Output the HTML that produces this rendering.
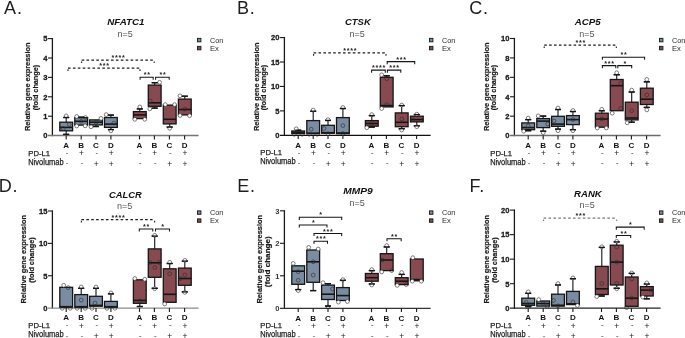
<!DOCTYPE html>
<html><head><meta charset="utf-8"><style>
html,body{margin:0;padding:0;background:#fff;width:685px;height:338px;overflow:hidden}
svg{display:block;will-change:transform}
</style></head><body>
<svg width="685" height="338" viewBox="0 0 685 338" font-family='"Liberation Sans", sans-serif'>
<rect width="685" height="338" fill="#fff"/>
<text x="4.10" y="13.50" font-size="18" font-weight="normal" font-style="normal" text-anchor="start" fill="#1e1e1e" letter-spacing="0.8">A.</text>
<text x="125.90" y="25.30" font-size="9.4" font-weight="bold" font-style="italic" text-anchor="middle" fill="#111" textLength="37.3" lengthAdjust="spacingAndGlyphs">NFATC1</text>
<text x="125.10" y="36.60" font-size="9" font-weight="normal" font-style="normal" text-anchor="middle" fill="#555" >n=5</text>
<rect x="197.50" y="38.40" width="3.4" height="3.4" fill="#798ca1" stroke="#222" stroke-width="1"/>
<rect x="197.50" y="46.40" width="3.4" height="3.4" fill="#874a50" stroke="#222" stroke-width="1"/>
<text x="209.90" y="42.90" font-size="7.6" font-weight="normal" font-style="normal" text-anchor="start" fill="#2a2a2a" textLength="13.4" lengthAdjust="spacingAndGlyphs">Con</text>
<text x="209.90" y="50.90" font-size="7.6" font-weight="normal" font-style="normal" text-anchor="start" fill="#2a2a2a" >Ex</text>
<text transform="translate(29.80,86.80) rotate(-90)" font-size="7.5" font-weight="bold" text-anchor="middle" fill="#1a1a1a" stroke="#1a1a1a" stroke-width="0.2" textLength="88.6" lengthAdjust="spacingAndGlyphs">Relative gene expression</text>
<text transform="translate(37.60,87.60) rotate(-90)" font-size="7.5" font-weight="bold" text-anchor="middle" fill="#1a1a1a" stroke="#1a1a1a" stroke-width="0.2" textLength="45.5" lengthAdjust="spacingAndGlyphs">(fold change)</text>
<line x1="52.40" y1="38.00" x2="52.40" y2="136.20" stroke="#1a1a1a" stroke-width="1.3" />
<text transform="translate(47.40,138.45) scale(0.95,1)" font-size="8" font-weight="bold" text-anchor="end" fill="#1a1a1a" stroke="#1a1a1a" stroke-width="0.3">0</text>
<line x1="48.00" y1="116.20" x2="52.40" y2="116.20" stroke="#1a1a1a" stroke-width="1.1" />
<text transform="translate(47.40,119.05) scale(0.95,1)" font-size="8" font-weight="bold" text-anchor="end" fill="#1a1a1a" stroke="#1a1a1a" stroke-width="0.3">1</text>
<line x1="48.00" y1="96.80" x2="52.40" y2="96.80" stroke="#1a1a1a" stroke-width="1.1" />
<text transform="translate(47.40,99.65) scale(0.95,1)" font-size="8" font-weight="bold" text-anchor="end" fill="#1a1a1a" stroke="#1a1a1a" stroke-width="0.3">2</text>
<line x1="48.00" y1="77.40" x2="52.40" y2="77.40" stroke="#1a1a1a" stroke-width="1.1" />
<text transform="translate(47.40,80.25) scale(0.95,1)" font-size="8" font-weight="bold" text-anchor="end" fill="#1a1a1a" stroke="#1a1a1a" stroke-width="0.3">3</text>
<line x1="48.00" y1="58.00" x2="52.40" y2="58.00" stroke="#1a1a1a" stroke-width="1.1" />
<text transform="translate(47.40,60.85) scale(0.95,1)" font-size="8" font-weight="bold" text-anchor="end" fill="#1a1a1a" stroke="#1a1a1a" stroke-width="0.3">4</text>
<line x1="48.00" y1="38.60" x2="52.40" y2="38.60" stroke="#1a1a1a" stroke-width="1.1" />
<text transform="translate(47.40,41.45) scale(0.95,1)" font-size="8" font-weight="bold" text-anchor="end" fill="#1a1a1a" stroke="#1a1a1a" stroke-width="0.3">5</text>
<line x1="48.00" y1="135.60" x2="198.60" y2="135.60" stroke="#767676" stroke-width="1.5" />
<line x1="66.20" y1="135.60" x2="66.20" y2="139.40" stroke="#1a1a1a" stroke-width="1.1" />
<line x1="66.20" y1="117.50" x2="66.20" y2="122.20" stroke="#151515" stroke-width="1.1" />
<line x1="63.20" y1="117.50" x2="69.20" y2="117.50" stroke="#151515" stroke-width="1.3" />
<line x1="66.20" y1="130.80" x2="66.20" y2="134.40" stroke="#151515" stroke-width="1.1" />
<line x1="63.20" y1="134.40" x2="69.20" y2="134.40" stroke="#151515" stroke-width="1.3" />
<rect x="59.80" y="122.20" width="12.80" height="8.60" fill="#798ca1" stroke="#151515" stroke-width="1.3"/>
<line x1="59.80" y1="127.40" x2="72.60" y2="127.40" stroke="#151515" stroke-width="1.6" />
<circle cx="66.20" cy="115.90" r="1.9" fill="#fff" stroke="#2a2a2a" stroke-width="0.7" stroke-opacity="0.85"/>
<circle cx="69.20" cy="124.50" r="1.9" fill="none" stroke="#2a2a2a" stroke-width="0.7" stroke-opacity="0.85"/>
<circle cx="63.20" cy="128.50" r="1.9" fill="none" stroke="#2a2a2a" stroke-width="0.7" stroke-opacity="0.85"/>
<line x1="63.20" y1="117.50" x2="69.20" y2="117.50" stroke="#151515" stroke-width="1.3" />
<line x1="63.20" y1="134.40" x2="69.20" y2="134.40" stroke="#151515" stroke-width="1.3" />
<line x1="81.20" y1="135.60" x2="81.20" y2="139.40" stroke="#1a1a1a" stroke-width="1.1" />
<line x1="81.20" y1="117.20" x2="81.20" y2="117.70" stroke="#151515" stroke-width="1.1" />
<line x1="78.20" y1="117.20" x2="84.20" y2="117.20" stroke="#151515" stroke-width="1.3" />
<rect x="74.80" y="117.70" width="12.80" height="7.40" fill="#798ca1" stroke="#151515" stroke-width="1.3"/>
<line x1="74.80" y1="121.30" x2="87.60" y2="121.30" stroke="#151515" stroke-width="1.6" />
<circle cx="76.70" cy="116.50" r="1.9" fill="#fff" stroke="#2a2a2a" stroke-width="0.7" stroke-opacity="0.85"/>
<circle cx="85.50" cy="117.50" r="1.9" fill="none" stroke="#2a2a2a" stroke-width="0.7" stroke-opacity="0.85"/>
<circle cx="76.70" cy="126.00" r="1.9" fill="#fff" stroke="#2a2a2a" stroke-width="0.7" stroke-opacity="0.85"/>
<circle cx="85.20" cy="125.80" r="1.9" fill="#fff" stroke="#2a2a2a" stroke-width="0.7" stroke-opacity="0.85"/>
<circle cx="81.20" cy="121.30" r="1.9" fill="none" stroke="#2a2a2a" stroke-width="0.7" stroke-opacity="0.85"/>
<line x1="78.20" y1="117.20" x2="84.20" y2="117.20" stroke="#151515" stroke-width="1.3" />
<line x1="96.00" y1="135.60" x2="96.00" y2="139.40" stroke="#1a1a1a" stroke-width="1.1" />
<line x1="96.00" y1="124.90" x2="96.00" y2="126.50" stroke="#151515" stroke-width="1.1" />
<line x1="93.00" y1="126.50" x2="99.00" y2="126.50" stroke="#151515" stroke-width="1.3" />
<rect x="89.60" y="119.90" width="12.80" height="5.00" fill="#798ca1" stroke="#151515" stroke-width="1.3"/>
<line x1="89.60" y1="122.20" x2="102.40" y2="122.20" stroke="#151515" stroke-width="1.6" />
<circle cx="101.00" cy="118.40" r="1.9" fill="#fff" stroke="#2a2a2a" stroke-width="0.7" stroke-opacity="0.85"/>
<circle cx="91.00" cy="126.80" r="1.9" fill="#fff" stroke="#2a2a2a" stroke-width="0.7" stroke-opacity="0.85"/>
<circle cx="96.00" cy="122.20" r="1.9" fill="none" stroke="#2a2a2a" stroke-width="0.7" stroke-opacity="0.85"/>
<line x1="93.00" y1="126.50" x2="99.00" y2="126.50" stroke="#151515" stroke-width="1.3" />
<line x1="110.90" y1="135.60" x2="110.90" y2="139.40" stroke="#1a1a1a" stroke-width="1.1" />
<line x1="110.90" y1="115.10" x2="110.90" y2="117.50" stroke="#151515" stroke-width="1.1" />
<line x1="107.90" y1="115.10" x2="113.90" y2="115.10" stroke="#151515" stroke-width="1.3" />
<line x1="110.90" y1="127.40" x2="110.90" y2="129.60" stroke="#151515" stroke-width="1.1" />
<line x1="107.90" y1="129.60" x2="113.90" y2="129.60" stroke="#151515" stroke-width="1.3" />
<rect x="104.50" y="117.50" width="12.80" height="9.90" fill="#798ca1" stroke="#151515" stroke-width="1.3"/>
<line x1="104.50" y1="124.10" x2="117.30" y2="124.10" stroke="#151515" stroke-width="1.6" />
<circle cx="106.20" cy="114.60" r="1.9" fill="#fff" stroke="#2a2a2a" stroke-width="0.7" stroke-opacity="0.85"/>
<circle cx="110.90" cy="130.80" r="1.9" fill="#fff" stroke="#2a2a2a" stroke-width="0.7" stroke-opacity="0.85"/>
<circle cx="113.90" cy="123.00" r="1.9" fill="none" stroke="#2a2a2a" stroke-width="0.7" stroke-opacity="0.85"/>
<line x1="107.90" y1="115.10" x2="113.90" y2="115.10" stroke="#151515" stroke-width="1.3" />
<line x1="107.90" y1="129.60" x2="113.90" y2="129.60" stroke="#151515" stroke-width="1.3" />
<line x1="139.50" y1="135.60" x2="139.50" y2="139.40" stroke="#1a1a1a" stroke-width="1.1" />
<line x1="139.80" y1="108.90" x2="139.80" y2="111.60" stroke="#151515" stroke-width="1.1" />
<line x1="136.80" y1="108.90" x2="142.80" y2="108.90" stroke="#151515" stroke-width="1.3" />
<rect x="133.40" y="111.60" width="12.80" height="7.00" fill="#874a50" stroke="#151515" stroke-width="1.3"/>
<line x1="133.40" y1="114.90" x2="146.20" y2="114.90" stroke="#151515" stroke-width="1.6" />
<circle cx="139.80" cy="106.90" r="1.9" fill="#fff" stroke="#2a2a2a" stroke-width="0.7" stroke-opacity="0.85"/>
<circle cx="134.80" cy="119.30" r="1.9" fill="#fff" stroke="#2a2a2a" stroke-width="0.7" stroke-opacity="0.85"/>
<circle cx="144.80" cy="119.30" r="1.9" fill="#fff" stroke="#2a2a2a" stroke-width="0.7" stroke-opacity="0.85"/>
<line x1="136.80" y1="108.90" x2="142.80" y2="108.90" stroke="#151515" stroke-width="1.3" />
<line x1="154.40" y1="135.60" x2="154.40" y2="139.40" stroke="#1a1a1a" stroke-width="1.1" />
<line x1="154.70" y1="82.70" x2="154.70" y2="85.10" stroke="#151515" stroke-width="1.1" />
<line x1="151.70" y1="82.70" x2="157.70" y2="82.70" stroke="#151515" stroke-width="1.3" />
<line x1="154.70" y1="106.30" x2="154.70" y2="108.10" stroke="#151515" stroke-width="1.1" />
<line x1="151.70" y1="108.10" x2="157.70" y2="108.10" stroke="#151515" stroke-width="1.3" />
<rect x="148.30" y="85.10" width="12.80" height="21.20" fill="#874a50" stroke="#151515" stroke-width="1.3"/>
<line x1="148.30" y1="102.80" x2="161.10" y2="102.80" stroke="#151515" stroke-width="1.6" />
<circle cx="159.60" cy="82.30" r="1.9" fill="#fff" stroke="#2a2a2a" stroke-width="0.7" stroke-opacity="0.85"/>
<circle cx="149.80" cy="108.90" r="1.9" fill="#fff" stroke="#2a2a2a" stroke-width="0.7" stroke-opacity="0.85"/>
<circle cx="150.20" cy="101.00" r="1.9" fill="none" stroke="#2a2a2a" stroke-width="0.7" stroke-opacity="0.85"/>
<line x1="151.70" y1="82.70" x2="157.70" y2="82.70" stroke="#151515" stroke-width="1.3" />
<line x1="151.70" y1="108.10" x2="157.70" y2="108.10" stroke="#151515" stroke-width="1.3" />
<line x1="169.40" y1="135.60" x2="169.40" y2="139.40" stroke="#1a1a1a" stroke-width="1.1" />
<line x1="169.70" y1="123.90" x2="169.70" y2="127.10" stroke="#151515" stroke-width="1.1" />
<line x1="166.70" y1="127.10" x2="172.70" y2="127.10" stroke="#151515" stroke-width="1.3" />
<rect x="163.30" y="105.10" width="12.80" height="18.80" fill="#874a50" stroke="#151515" stroke-width="1.3"/>
<line x1="163.30" y1="119.30" x2="176.10" y2="119.30" stroke="#151515" stroke-width="1.6" />
<circle cx="165.30" cy="104.60" r="1.9" fill="#fff" stroke="#2a2a2a" stroke-width="0.7" stroke-opacity="0.85"/>
<circle cx="174.60" cy="104.60" r="1.9" fill="#fff" stroke="#2a2a2a" stroke-width="0.7" stroke-opacity="0.85"/>
<circle cx="169.70" cy="128.30" r="1.9" fill="#fff" stroke="#2a2a2a" stroke-width="0.7" stroke-opacity="0.85"/>
<line x1="166.70" y1="127.10" x2="172.70" y2="127.10" stroke="#151515" stroke-width="1.3" />
<line x1="184.60" y1="135.60" x2="184.60" y2="139.40" stroke="#1a1a1a" stroke-width="1.1" />
<line x1="184.80" y1="96.20" x2="184.80" y2="99.10" stroke="#151515" stroke-width="1.1" />
<line x1="181.80" y1="96.20" x2="187.80" y2="96.20" stroke="#151515" stroke-width="1.3" />
<rect x="178.40" y="99.10" width="12.80" height="15.80" fill="#874a50" stroke="#151515" stroke-width="1.3"/>
<line x1="178.40" y1="109.50" x2="191.20" y2="109.50" stroke="#151515" stroke-width="1.6" />
<circle cx="180.00" cy="95.80" r="1.9" fill="#fff" stroke="#2a2a2a" stroke-width="0.7" stroke-opacity="0.85"/>
<circle cx="180.00" cy="115.50" r="1.9" fill="#fff" stroke="#2a2a2a" stroke-width="0.7" stroke-opacity="0.85"/>
<circle cx="189.60" cy="115.70" r="1.9" fill="#fff" stroke="#2a2a2a" stroke-width="0.7" stroke-opacity="0.85"/>
<circle cx="184.80" cy="109.20" r="1.9" fill="none" stroke="#2a2a2a" stroke-width="0.7" stroke-opacity="0.85"/>
<line x1="181.80" y1="96.20" x2="187.80" y2="96.20" stroke="#151515" stroke-width="1.3" />
<text x="66.20" y="147.80" font-size="8.0" font-weight="bold" font-style="normal" text-anchor="middle" fill="#111" >A</text>
<text x="67.00" y="154.80" font-size="7.6" font-weight="normal" font-style="normal" text-anchor="middle" fill="#1a1a1a" >-</text>
<text x="67.00" y="165.10" font-size="7.6" font-weight="normal" font-style="normal" text-anchor="middle" fill="#1a1a1a" >-</text>
<text x="81.20" y="147.80" font-size="8.0" font-weight="bold" font-style="normal" text-anchor="middle" fill="#111" >B</text>
<text x="81.50" y="156.20" font-size="8.4" font-weight="normal" font-style="normal" text-anchor="middle" fill="#1a1a1a" >+</text>
<text x="82.00" y="165.10" font-size="7.6" font-weight="normal" font-style="normal" text-anchor="middle" fill="#1a1a1a" >-</text>
<text x="96.00" y="147.80" font-size="8.0" font-weight="bold" font-style="normal" text-anchor="middle" fill="#111" >C</text>
<text x="96.80" y="154.80" font-size="7.6" font-weight="normal" font-style="normal" text-anchor="middle" fill="#1a1a1a" >-</text>
<text x="96.30" y="166.50" font-size="8.4" font-weight="normal" font-style="normal" text-anchor="middle" fill="#1a1a1a" >+</text>
<text x="110.90" y="147.80" font-size="8.0" font-weight="bold" font-style="normal" text-anchor="middle" fill="#111" >D</text>
<text x="111.20" y="156.20" font-size="8.4" font-weight="normal" font-style="normal" text-anchor="middle" fill="#1a1a1a" >+</text>
<text x="111.20" y="166.50" font-size="8.4" font-weight="normal" font-style="normal" text-anchor="middle" fill="#1a1a1a" >+</text>
<text x="139.50" y="147.80" font-size="8.0" font-weight="bold" font-style="normal" text-anchor="middle" fill="#111" >A</text>
<text x="140.30" y="154.80" font-size="7.6" font-weight="normal" font-style="normal" text-anchor="middle" fill="#1a1a1a" >-</text>
<text x="140.30" y="165.10" font-size="7.6" font-weight="normal" font-style="normal" text-anchor="middle" fill="#1a1a1a" >-</text>
<text x="154.40" y="147.80" font-size="8.0" font-weight="bold" font-style="normal" text-anchor="middle" fill="#111" >B</text>
<text x="154.70" y="156.20" font-size="8.4" font-weight="normal" font-style="normal" text-anchor="middle" fill="#1a1a1a" >+</text>
<text x="155.20" y="165.10" font-size="7.6" font-weight="normal" font-style="normal" text-anchor="middle" fill="#1a1a1a" >-</text>
<text x="169.40" y="147.80" font-size="8.0" font-weight="bold" font-style="normal" text-anchor="middle" fill="#111" >C</text>
<text x="170.20" y="154.80" font-size="7.6" font-weight="normal" font-style="normal" text-anchor="middle" fill="#1a1a1a" >-</text>
<text x="169.70" y="166.50" font-size="8.4" font-weight="normal" font-style="normal" text-anchor="middle" fill="#1a1a1a" >+</text>
<text x="184.60" y="147.80" font-size="8.0" font-weight="bold" font-style="normal" text-anchor="middle" fill="#111" >D</text>
<text x="184.90" y="156.20" font-size="8.4" font-weight="normal" font-style="normal" text-anchor="middle" fill="#1a1a1a" >+</text>
<text x="184.90" y="166.50" font-size="8.4" font-weight="normal" font-style="normal" text-anchor="middle" fill="#1a1a1a" >+</text>
<text x="28.30" y="155.50" font-size="7.9" font-weight="normal" font-style="normal" text-anchor="start" fill="#222" textLength="21.8" lengthAdjust="spacingAndGlyphs" stroke="#222" stroke-width="0.25">PD-L1</text>
<text x="28.30" y="164.70" font-size="8.3" font-weight="normal" font-style="normal" text-anchor="start" fill="#222" textLength="35.4" lengthAdjust="spacingAndGlyphs" stroke="#222" stroke-width="0.25">Nivolumab</text>
<path d="M81.60,60.20 H154.20" fill="none" stroke="#1c1c1c" stroke-width="1.25" stroke-dasharray="2.6,2.3"/>
<line x1="81.60" y1="61.50" x2="81.60" y2="63.10" stroke="#1c1c1c" stroke-width="1.1" />
<line x1="154.20" y1="61.50" x2="154.20" y2="63.10" stroke="#1c1c1c" stroke-width="1.1" />
<text x="118.40" y="60.30" font-size="7.2" font-weight="bold" font-style="normal" text-anchor="middle" fill="#222" letter-spacing="0.7">****</text>
<path d="M68.00,68.00 H140.00" fill="none" stroke="#1c1c1c" stroke-width="1.25" stroke-dasharray="2.6,2.3"/>
<line x1="68.00" y1="69.30" x2="68.00" y2="70.90" stroke="#1c1c1c" stroke-width="1.1" />
<line x1="140.00" y1="69.30" x2="140.00" y2="70.90" stroke="#1c1c1c" stroke-width="1.1" />
<text x="104.50" y="68.10" font-size="7.2" font-weight="bold" font-style="normal" text-anchor="middle" fill="#222" letter-spacing="0.7">***</text>
<path d="M140.10,79.80 V77.20 H153.20 V79.80" fill="none" stroke="#151515" stroke-width="1.05"/>
<text x="147.15" y="77.30" font-size="7.2" font-weight="bold" font-style="normal" text-anchor="middle" fill="#222" letter-spacing="0.7">**</text>
<path d="M155.60,79.80 V77.20 H169.20 V79.80" fill="none" stroke="#151515" stroke-width="1.05"/>
<text x="162.90" y="77.30" font-size="7.2" font-weight="bold" font-style="normal" text-anchor="middle" fill="#222" letter-spacing="0.7">**</text>
<text x="237.00" y="13.70" font-size="18" font-weight="normal" font-style="normal" text-anchor="start" fill="#1e1e1e" letter-spacing="0.8">B.</text>
<text x="357.90" y="25.00" font-size="9.4" font-weight="bold" font-style="italic" text-anchor="middle" fill="#111" textLength="25.9" lengthAdjust="spacingAndGlyphs">CTSK</text>
<text x="357.10" y="36.60" font-size="9" font-weight="normal" font-style="normal" text-anchor="middle" fill="#555" >n=5</text>
<rect x="429.50" y="38.40" width="3.4" height="3.4" fill="#798ca1" stroke="#222" stroke-width="1"/>
<rect x="429.50" y="46.40" width="3.4" height="3.4" fill="#874a50" stroke="#222" stroke-width="1"/>
<text x="441.90" y="42.90" font-size="7.6" font-weight="normal" font-style="normal" text-anchor="start" fill="#2a2a2a" textLength="13.4" lengthAdjust="spacingAndGlyphs">Con</text>
<text x="441.90" y="50.90" font-size="7.6" font-weight="normal" font-style="normal" text-anchor="start" fill="#2a2a2a" >Ex</text>
<text transform="translate(258.60,86.80) rotate(-90)" font-size="7.5" font-weight="bold" text-anchor="middle" fill="#1a1a1a" stroke="#1a1a1a" stroke-width="0.2" textLength="88.6" lengthAdjust="spacingAndGlyphs">Relative gene expression</text>
<text transform="translate(266.40,87.60) rotate(-90)" font-size="7.5" font-weight="bold" text-anchor="middle" fill="#1a1a1a" stroke="#1a1a1a" stroke-width="0.2" textLength="45.5" lengthAdjust="spacingAndGlyphs">(fold change)</text>
<line x1="284.40" y1="37.00" x2="284.40" y2="135.90" stroke="#1a1a1a" stroke-width="1.3" />
<text transform="translate(279.40,138.15) scale(0.95,1)" font-size="8" font-weight="bold" text-anchor="end" fill="#1a1a1a" stroke="#1a1a1a" stroke-width="0.3">0</text>
<line x1="280.00" y1="110.88" x2="284.40" y2="110.88" stroke="#1a1a1a" stroke-width="1.1" />
<text transform="translate(279.40,113.72) scale(0.95,1)" font-size="8" font-weight="bold" text-anchor="end" fill="#1a1a1a" stroke="#1a1a1a" stroke-width="0.3">5</text>
<line x1="280.00" y1="86.45" x2="284.40" y2="86.45" stroke="#1a1a1a" stroke-width="1.1" />
<text transform="translate(279.40,89.30) scale(0.95,1)" font-size="8" font-weight="bold" text-anchor="end" fill="#1a1a1a" stroke="#1a1a1a" stroke-width="0.3">10</text>
<line x1="280.00" y1="62.03" x2="284.40" y2="62.03" stroke="#1a1a1a" stroke-width="1.1" />
<text transform="translate(279.40,64.88) scale(0.95,1)" font-size="8" font-weight="bold" text-anchor="end" fill="#1a1a1a" stroke="#1a1a1a" stroke-width="0.3">15</text>
<line x1="280.00" y1="37.60" x2="284.40" y2="37.60" stroke="#1a1a1a" stroke-width="1.1" />
<text transform="translate(279.40,40.45) scale(0.95,1)" font-size="8" font-weight="bold" text-anchor="end" fill="#1a1a1a" stroke="#1a1a1a" stroke-width="0.3">20</text>
<line x1="280.00" y1="135.30" x2="430.60" y2="135.30" stroke="#111" stroke-width="1.3" />
<line x1="298.20" y1="135.30" x2="298.20" y2="139.10" stroke="#1a1a1a" stroke-width="1.1" />
<line x1="298.20" y1="130.20" x2="298.20" y2="131.00" stroke="#151515" stroke-width="1.1" />
<line x1="295.20" y1="130.20" x2="301.20" y2="130.20" stroke="#151515" stroke-width="1.3" />
<rect x="291.80" y="131.00" width="12.80" height="2.60" fill="#798ca1" stroke="#151515" stroke-width="1.3"/>
<line x1="291.80" y1="132.30" x2="304.60" y2="132.30" stroke="#151515" stroke-width="1.6" />
<circle cx="296.20" cy="128.80" r="1.9" fill="#fff" stroke="#2a2a2a" stroke-width="0.7" stroke-opacity="0.85"/>
<circle cx="294.20" cy="134.30" r="1.9" fill="none" stroke="#2a2a2a" stroke-width="0.7" stroke-opacity="0.85"/>
<circle cx="302.20" cy="134.30" r="1.9" fill="none" stroke="#2a2a2a" stroke-width="0.7" stroke-opacity="0.85"/>
<line x1="295.20" y1="130.20" x2="301.20" y2="130.20" stroke="#151515" stroke-width="1.3" />
<line x1="313.20" y1="135.30" x2="313.20" y2="139.10" stroke="#1a1a1a" stroke-width="1.1" />
<line x1="313.20" y1="111.20" x2="313.20" y2="120.60" stroke="#151515" stroke-width="1.1" />
<line x1="310.20" y1="111.20" x2="316.20" y2="111.20" stroke="#151515" stroke-width="1.3" />
<rect x="306.80" y="120.60" width="12.80" height="13.10" fill="#798ca1" stroke="#151515" stroke-width="1.3"/>
<line x1="306.80" y1="133.20" x2="319.60" y2="133.20" stroke="#151515" stroke-width="1.6" />
<circle cx="313.20" cy="110.10" r="1.9" fill="#fff" stroke="#2a2a2a" stroke-width="0.7" stroke-opacity="0.85"/>
<circle cx="311.20" cy="129.20" r="1.9" fill="none" stroke="#2a2a2a" stroke-width="0.7" stroke-opacity="0.85"/>
<circle cx="309.20" cy="134.30" r="1.9" fill="none" stroke="#2a2a2a" stroke-width="0.7" stroke-opacity="0.85"/>
<circle cx="317.20" cy="134.30" r="1.9" fill="none" stroke="#2a2a2a" stroke-width="0.7" stroke-opacity="0.85"/>
<line x1="310.20" y1="111.20" x2="316.20" y2="111.20" stroke="#151515" stroke-width="1.3" />
<line x1="328.00" y1="135.30" x2="328.00" y2="139.10" stroke="#1a1a1a" stroke-width="1.1" />
<line x1="328.00" y1="120.40" x2="328.00" y2="125.30" stroke="#151515" stroke-width="1.1" />
<line x1="325.00" y1="120.40" x2="331.00" y2="120.40" stroke="#151515" stroke-width="1.3" />
<rect x="321.60" y="125.30" width="12.80" height="7.90" fill="#798ca1" stroke="#151515" stroke-width="1.3"/>
<line x1="321.60" y1="132.70" x2="334.40" y2="132.70" stroke="#151515" stroke-width="1.6" />
<circle cx="328.00" cy="119.60" r="1.9" fill="#fff" stroke="#2a2a2a" stroke-width="0.7" stroke-opacity="0.85"/>
<circle cx="324.00" cy="128.50" r="1.9" fill="none" stroke="#2a2a2a" stroke-width="0.7" stroke-opacity="0.85"/>
<circle cx="328.00" cy="133.80" r="1.9" fill="none" stroke="#2a2a2a" stroke-width="0.7" stroke-opacity="0.85"/>
<line x1="325.00" y1="120.40" x2="331.00" y2="120.40" stroke="#151515" stroke-width="1.3" />
<line x1="342.90" y1="135.30" x2="342.90" y2="139.10" stroke="#1a1a1a" stroke-width="1.1" />
<line x1="342.90" y1="108.50" x2="342.90" y2="117.60" stroke="#151515" stroke-width="1.1" />
<line x1="339.90" y1="108.50" x2="345.90" y2="108.50" stroke="#151515" stroke-width="1.3" />
<rect x="336.50" y="117.60" width="12.80" height="16.10" fill="#798ca1" stroke="#151515" stroke-width="1.3"/>
<line x1="336.50" y1="133.00" x2="349.30" y2="133.00" stroke="#151515" stroke-width="1.6" />
<circle cx="342.90" cy="107.50" r="1.9" fill="#fff" stroke="#2a2a2a" stroke-width="0.7" stroke-opacity="0.85"/>
<circle cx="342.90" cy="125.60" r="1.9" fill="none" stroke="#2a2a2a" stroke-width="0.7" stroke-opacity="0.85"/>
<circle cx="342.90" cy="133.50" r="1.9" fill="none" stroke="#2a2a2a" stroke-width="0.7" stroke-opacity="0.85"/>
<line x1="339.90" y1="108.50" x2="345.90" y2="108.50" stroke="#151515" stroke-width="1.3" />
<line x1="371.50" y1="135.30" x2="371.50" y2="139.10" stroke="#1a1a1a" stroke-width="1.1" />
<line x1="371.80" y1="115.60" x2="371.80" y2="120.60" stroke="#151515" stroke-width="1.1" />
<line x1="368.80" y1="115.60" x2="374.80" y2="115.60" stroke="#151515" stroke-width="1.3" />
<line x1="371.80" y1="126.20" x2="371.80" y2="127.10" stroke="#151515" stroke-width="1.1" />
<line x1="368.80" y1="127.10" x2="374.80" y2="127.10" stroke="#151515" stroke-width="1.3" />
<rect x="365.40" y="120.60" width="12.80" height="5.60" fill="#874a50" stroke="#151515" stroke-width="1.3"/>
<line x1="365.40" y1="123.50" x2="378.20" y2="123.50" stroke="#151515" stroke-width="1.6" />
<circle cx="371.80" cy="114.60" r="1.9" fill="#fff" stroke="#2a2a2a" stroke-width="0.7" stroke-opacity="0.85"/>
<circle cx="366.80" cy="127.70" r="1.9" fill="#fff" stroke="#2a2a2a" stroke-width="0.7" stroke-opacity="0.85"/>
<circle cx="371.80" cy="123.50" r="1.9" fill="none" stroke="#2a2a2a" stroke-width="0.7" stroke-opacity="0.85"/>
<line x1="368.80" y1="115.60" x2="374.80" y2="115.60" stroke="#151515" stroke-width="1.3" />
<line x1="368.80" y1="127.10" x2="374.80" y2="127.10" stroke="#151515" stroke-width="1.3" />
<line x1="386.40" y1="135.30" x2="386.40" y2="139.10" stroke="#1a1a1a" stroke-width="1.1" />
<line x1="386.70" y1="75.80" x2="386.70" y2="77.30" stroke="#151515" stroke-width="1.1" />
<line x1="383.70" y1="75.80" x2="389.70" y2="75.80" stroke="#151515" stroke-width="1.3" />
<rect x="380.30" y="77.30" width="12.80" height="29.60" fill="#874a50" stroke="#151515" stroke-width="1.3"/>
<line x1="380.30" y1="105.60" x2="393.10" y2="105.60" stroke="#151515" stroke-width="1.6" />
<circle cx="381.70" cy="74.80" r="1.9" fill="#fff" stroke="#2a2a2a" stroke-width="0.7" stroke-opacity="0.85"/>
<circle cx="386.70" cy="78.70" r="1.9" fill="none" stroke="#2a2a2a" stroke-width="0.7" stroke-opacity="0.85"/>
<circle cx="381.70" cy="108.50" r="1.9" fill="#fff" stroke="#2a2a2a" stroke-width="0.7" stroke-opacity="0.85"/>
<circle cx="386.70" cy="104.60" r="1.9" fill="none" stroke="#2a2a2a" stroke-width="0.7" stroke-opacity="0.85"/>
<line x1="383.70" y1="75.80" x2="389.70" y2="75.80" stroke="#151515" stroke-width="1.3" />
<line x1="401.40" y1="135.30" x2="401.40" y2="139.10" stroke="#1a1a1a" stroke-width="1.1" />
<line x1="401.70" y1="105.60" x2="401.70" y2="112.90" stroke="#151515" stroke-width="1.1" />
<line x1="398.70" y1="105.60" x2="404.70" y2="105.60" stroke="#151515" stroke-width="1.3" />
<line x1="401.70" y1="126.70" x2="401.70" y2="128.70" stroke="#151515" stroke-width="1.1" />
<line x1="398.70" y1="128.70" x2="404.70" y2="128.70" stroke="#151515" stroke-width="1.3" />
<rect x="395.30" y="112.90" width="12.80" height="13.80" fill="#874a50" stroke="#151515" stroke-width="1.3"/>
<line x1="395.30" y1="122.30" x2="408.10" y2="122.30" stroke="#151515" stroke-width="1.6" />
<circle cx="401.70" cy="105.00" r="1.9" fill="#fff" stroke="#2a2a2a" stroke-width="0.7" stroke-opacity="0.85"/>
<circle cx="401.70" cy="130.00" r="1.9" fill="#fff" stroke="#2a2a2a" stroke-width="0.7" stroke-opacity="0.85"/>
<circle cx="401.70" cy="119.00" r="1.9" fill="none" stroke="#2a2a2a" stroke-width="0.7" stroke-opacity="0.85"/>
<line x1="398.70" y1="105.60" x2="404.70" y2="105.60" stroke="#151515" stroke-width="1.3" />
<line x1="398.70" y1="128.70" x2="404.70" y2="128.70" stroke="#151515" stroke-width="1.3" />
<line x1="416.60" y1="135.30" x2="416.60" y2="139.10" stroke="#1a1a1a" stroke-width="1.1" />
<line x1="416.80" y1="114.60" x2="416.80" y2="116.20" stroke="#151515" stroke-width="1.1" />
<line x1="413.80" y1="114.60" x2="419.80" y2="114.60" stroke="#151515" stroke-width="1.3" />
<line x1="416.80" y1="121.90" x2="416.80" y2="125.80" stroke="#151515" stroke-width="1.1" />
<line x1="413.80" y1="125.80" x2="419.80" y2="125.80" stroke="#151515" stroke-width="1.3" />
<rect x="410.40" y="116.20" width="12.80" height="5.70" fill="#874a50" stroke="#151515" stroke-width="1.3"/>
<line x1="410.40" y1="119.60" x2="423.20" y2="119.60" stroke="#151515" stroke-width="1.6" />
<circle cx="416.80" cy="114.20" r="1.9" fill="#fff" stroke="#2a2a2a" stroke-width="0.7" stroke-opacity="0.85"/>
<circle cx="416.80" cy="126.70" r="1.9" fill="#fff" stroke="#2a2a2a" stroke-width="0.7" stroke-opacity="0.85"/>
<circle cx="412.80" cy="119.60" r="1.9" fill="none" stroke="#2a2a2a" stroke-width="0.7" stroke-opacity="0.85"/>
<line x1="413.80" y1="114.60" x2="419.80" y2="114.60" stroke="#151515" stroke-width="1.3" />
<line x1="413.80" y1="125.80" x2="419.80" y2="125.80" stroke="#151515" stroke-width="1.3" />
<text x="298.20" y="147.50" font-size="8.0" font-weight="bold" font-style="normal" text-anchor="middle" fill="#111" >A</text>
<text x="299.00" y="154.80" font-size="7.6" font-weight="normal" font-style="normal" text-anchor="middle" fill="#1a1a1a" >-</text>
<text x="299.00" y="165.10" font-size="7.6" font-weight="normal" font-style="normal" text-anchor="middle" fill="#1a1a1a" >-</text>
<text x="313.20" y="147.50" font-size="8.0" font-weight="bold" font-style="normal" text-anchor="middle" fill="#111" >B</text>
<text x="313.50" y="156.20" font-size="8.4" font-weight="normal" font-style="normal" text-anchor="middle" fill="#1a1a1a" >+</text>
<text x="314.00" y="165.10" font-size="7.6" font-weight="normal" font-style="normal" text-anchor="middle" fill="#1a1a1a" >-</text>
<text x="328.00" y="147.50" font-size="8.0" font-weight="bold" font-style="normal" text-anchor="middle" fill="#111" >C</text>
<text x="328.80" y="154.80" font-size="7.6" font-weight="normal" font-style="normal" text-anchor="middle" fill="#1a1a1a" >-</text>
<text x="328.30" y="166.50" font-size="8.4" font-weight="normal" font-style="normal" text-anchor="middle" fill="#1a1a1a" >+</text>
<text x="342.90" y="147.50" font-size="8.0" font-weight="bold" font-style="normal" text-anchor="middle" fill="#111" >D</text>
<text x="343.20" y="156.20" font-size="8.4" font-weight="normal" font-style="normal" text-anchor="middle" fill="#1a1a1a" >+</text>
<text x="343.20" y="166.50" font-size="8.4" font-weight="normal" font-style="normal" text-anchor="middle" fill="#1a1a1a" >+</text>
<text x="371.50" y="147.50" font-size="8.0" font-weight="bold" font-style="normal" text-anchor="middle" fill="#111" >A</text>
<text x="372.30" y="154.80" font-size="7.6" font-weight="normal" font-style="normal" text-anchor="middle" fill="#1a1a1a" >-</text>
<text x="372.30" y="165.10" font-size="7.6" font-weight="normal" font-style="normal" text-anchor="middle" fill="#1a1a1a" >-</text>
<text x="386.40" y="147.50" font-size="8.0" font-weight="bold" font-style="normal" text-anchor="middle" fill="#111" >B</text>
<text x="386.70" y="156.20" font-size="8.4" font-weight="normal" font-style="normal" text-anchor="middle" fill="#1a1a1a" >+</text>
<text x="387.20" y="165.10" font-size="7.6" font-weight="normal" font-style="normal" text-anchor="middle" fill="#1a1a1a" >-</text>
<text x="401.40" y="147.50" font-size="8.0" font-weight="bold" font-style="normal" text-anchor="middle" fill="#111" >C</text>
<text x="402.20" y="154.80" font-size="7.6" font-weight="normal" font-style="normal" text-anchor="middle" fill="#1a1a1a" >-</text>
<text x="401.70" y="166.50" font-size="8.4" font-weight="normal" font-style="normal" text-anchor="middle" fill="#1a1a1a" >+</text>
<text x="416.60" y="147.50" font-size="8.0" font-weight="bold" font-style="normal" text-anchor="middle" fill="#111" >D</text>
<text x="416.90" y="156.20" font-size="8.4" font-weight="normal" font-style="normal" text-anchor="middle" fill="#1a1a1a" >+</text>
<text x="416.90" y="166.50" font-size="8.4" font-weight="normal" font-style="normal" text-anchor="middle" fill="#1a1a1a" >+</text>
<text x="260.30" y="155.20" font-size="7.9" font-weight="normal" font-style="normal" text-anchor="start" fill="#222" textLength="21.8" lengthAdjust="spacingAndGlyphs" stroke="#222" stroke-width="0.25">PD-L1</text>
<text x="260.30" y="164.40" font-size="8.3" font-weight="normal" font-style="normal" text-anchor="start" fill="#222" textLength="35.4" lengthAdjust="spacingAndGlyphs" stroke="#222" stroke-width="0.25">Nivolumab</text>
<path d="M313.60,52.80 H386.00" fill="none" stroke="#1c1c1c" stroke-width="1.25" stroke-dasharray="2.6,2.3"/>
<line x1="313.60" y1="54.10" x2="313.60" y2="55.70" stroke="#1c1c1c" stroke-width="1.1" />
<line x1="386.00" y1="54.10" x2="386.00" y2="55.70" stroke="#1c1c1c" stroke-width="1.1" />
<text x="350.30" y="52.90" font-size="7.2" font-weight="bold" font-style="normal" text-anchor="middle" fill="#222" letter-spacing="0.7">****</text>
<path d="M371.60,72.70 V70.10 H385.30 V72.70" fill="none" stroke="#151515" stroke-width="1.05"/>
<text x="378.95" y="70.20" font-size="7.2" font-weight="bold" font-style="normal" text-anchor="middle" fill="#222" letter-spacing="0.7">****</text>
<path d="M387.40,72.70 V70.10 H400.80 V72.70" fill="none" stroke="#151515" stroke-width="1.05"/>
<text x="394.60" y="70.20" font-size="7.2" font-weight="bold" font-style="normal" text-anchor="middle" fill="#222" letter-spacing="0.7">***</text>
<path d="M387.20,64.20 V61.60 H414.70 V64.20" fill="none" stroke="#151515" stroke-width="1.05"/>
<text x="401.45" y="61.70" font-size="7.2" font-weight="bold" font-style="normal" text-anchor="middle" fill="#222" letter-spacing="0.7">***</text>
<text x="469.30" y="13.80" font-size="18" font-weight="normal" font-style="normal" text-anchor="start" fill="#1e1e1e" letter-spacing="0.8">C.</text>
<text x="587.70" y="25.30" font-size="9.4" font-weight="bold" font-style="italic" text-anchor="middle" fill="#111" textLength="26.0" lengthAdjust="spacingAndGlyphs">ACP5</text>
<text x="586.90" y="36.60" font-size="9" font-weight="normal" font-style="normal" text-anchor="middle" fill="#555" >n=5</text>
<rect x="659.50" y="38.40" width="3.4" height="3.4" fill="#798ca1" stroke="#222" stroke-width="1"/>
<rect x="659.50" y="46.40" width="3.4" height="3.4" fill="#874a50" stroke="#222" stroke-width="1"/>
<text x="671.90" y="42.90" font-size="7.6" font-weight="normal" font-style="normal" text-anchor="start" fill="#2a2a2a" textLength="13.4" lengthAdjust="spacingAndGlyphs">Con</text>
<text x="671.90" y="50.90" font-size="7.6" font-weight="normal" font-style="normal" text-anchor="start" fill="#2a2a2a" >Ex</text>
<text transform="translate(488.60,86.80) rotate(-90)" font-size="7.5" font-weight="bold" text-anchor="middle" fill="#1a1a1a" stroke="#1a1a1a" stroke-width="0.2" textLength="88.6" lengthAdjust="spacingAndGlyphs">Relative gene expression</text>
<text transform="translate(496.40,87.60) rotate(-90)" font-size="7.5" font-weight="bold" text-anchor="middle" fill="#1a1a1a" stroke="#1a1a1a" stroke-width="0.2" textLength="45.5" lengthAdjust="spacingAndGlyphs">(fold change)</text>
<line x1="514.40" y1="37.90" x2="514.40" y2="136.20" stroke="#1a1a1a" stroke-width="1.3" />
<text transform="translate(509.40,138.45) scale(0.95,1)" font-size="8" font-weight="bold" text-anchor="end" fill="#1a1a1a" stroke="#1a1a1a" stroke-width="0.3">0</text>
<line x1="510.00" y1="116.18" x2="514.40" y2="116.18" stroke="#1a1a1a" stroke-width="1.1" />
<text transform="translate(509.40,119.03) scale(0.95,1)" font-size="8" font-weight="bold" text-anchor="end" fill="#1a1a1a" stroke="#1a1a1a" stroke-width="0.3">2</text>
<line x1="510.00" y1="96.76" x2="514.40" y2="96.76" stroke="#1a1a1a" stroke-width="1.1" />
<text transform="translate(509.40,99.61) scale(0.95,1)" font-size="8" font-weight="bold" text-anchor="end" fill="#1a1a1a" stroke="#1a1a1a" stroke-width="0.3">4</text>
<line x1="510.00" y1="77.34" x2="514.40" y2="77.34" stroke="#1a1a1a" stroke-width="1.1" />
<text transform="translate(509.40,80.19) scale(0.95,1)" font-size="8" font-weight="bold" text-anchor="end" fill="#1a1a1a" stroke="#1a1a1a" stroke-width="0.3">6</text>
<line x1="510.00" y1="57.92" x2="514.40" y2="57.92" stroke="#1a1a1a" stroke-width="1.1" />
<text transform="translate(509.40,60.77) scale(0.95,1)" font-size="8" font-weight="bold" text-anchor="end" fill="#1a1a1a" stroke="#1a1a1a" stroke-width="0.3">8</text>
<line x1="510.00" y1="38.50" x2="514.40" y2="38.50" stroke="#1a1a1a" stroke-width="1.1" />
<text transform="translate(509.40,41.35) scale(0.95,1)" font-size="8" font-weight="bold" text-anchor="end" fill="#1a1a1a" stroke="#1a1a1a" stroke-width="0.3">10</text>
<line x1="510.00" y1="135.60" x2="660.60" y2="135.60" stroke="#6c6c6c" stroke-width="1.5" />
<line x1="528.20" y1="135.60" x2="528.20" y2="139.40" stroke="#1a1a1a" stroke-width="1.1" />
<line x1="528.20" y1="119.60" x2="528.20" y2="122.90" stroke="#151515" stroke-width="1.1" />
<line x1="525.20" y1="119.60" x2="531.20" y2="119.60" stroke="#151515" stroke-width="1.3" />
<line x1="528.20" y1="129.70" x2="528.20" y2="130.70" stroke="#151515" stroke-width="1.1" />
<line x1="525.20" y1="130.70" x2="531.20" y2="130.70" stroke="#151515" stroke-width="1.3" />
<rect x="521.80" y="122.90" width="12.80" height="6.80" fill="#798ca1" stroke="#151515" stroke-width="1.3"/>
<line x1="521.80" y1="127.60" x2="534.60" y2="127.60" stroke="#151515" stroke-width="1.6" />
<circle cx="528.20" cy="118.10" r="1.9" fill="#fff" stroke="#2a2a2a" stroke-width="0.7" stroke-opacity="0.85"/>
<circle cx="523.70" cy="131.20" r="1.9" fill="#fff" stroke="#2a2a2a" stroke-width="0.7" stroke-opacity="0.85"/>
<circle cx="528.20" cy="126.00" r="1.9" fill="none" stroke="#2a2a2a" stroke-width="0.7" stroke-opacity="0.85"/>
<line x1="525.20" y1="119.60" x2="531.20" y2="119.60" stroke="#151515" stroke-width="1.3" />
<line x1="525.20" y1="130.70" x2="531.20" y2="130.70" stroke="#151515" stroke-width="1.3" />
<line x1="543.20" y1="135.60" x2="543.20" y2="139.40" stroke="#1a1a1a" stroke-width="1.1" />
<line x1="543.20" y1="116.10" x2="543.20" y2="118.60" stroke="#151515" stroke-width="1.1" />
<line x1="540.20" y1="116.10" x2="546.20" y2="116.10" stroke="#151515" stroke-width="1.3" />
<line x1="543.20" y1="127.60" x2="543.20" y2="131.20" stroke="#151515" stroke-width="1.1" />
<line x1="540.20" y1="131.20" x2="546.20" y2="131.20" stroke="#151515" stroke-width="1.3" />
<rect x="536.80" y="118.60" width="12.80" height="9.00" fill="#798ca1" stroke="#151515" stroke-width="1.3"/>
<line x1="536.80" y1="121.10" x2="549.60" y2="121.10" stroke="#151515" stroke-width="1.6" />
<circle cx="538.20" cy="115.90" r="1.9" fill="#fff" stroke="#2a2a2a" stroke-width="0.7" stroke-opacity="0.85"/>
<circle cx="543.20" cy="132.70" r="1.9" fill="#fff" stroke="#2a2a2a" stroke-width="0.7" stroke-opacity="0.85"/>
<circle cx="547.70" cy="124.00" r="1.9" fill="none" stroke="#2a2a2a" stroke-width="0.7" stroke-opacity="0.85"/>
<line x1="540.20" y1="116.10" x2="546.20" y2="116.10" stroke="#151515" stroke-width="1.3" />
<line x1="540.20" y1="131.20" x2="546.20" y2="131.20" stroke="#151515" stroke-width="1.3" />
<line x1="558.00" y1="135.60" x2="558.00" y2="139.40" stroke="#1a1a1a" stroke-width="1.1" />
<line x1="558.00" y1="109.50" x2="558.00" y2="116.30" stroke="#151515" stroke-width="1.1" />
<line x1="555.00" y1="109.50" x2="561.00" y2="109.50" stroke="#151515" stroke-width="1.3" />
<line x1="558.00" y1="126.30" x2="558.00" y2="129.20" stroke="#151515" stroke-width="1.1" />
<line x1="555.00" y1="129.20" x2="561.00" y2="129.20" stroke="#151515" stroke-width="1.3" />
<rect x="551.60" y="116.30" width="12.80" height="10.00" fill="#798ca1" stroke="#151515" stroke-width="1.3"/>
<line x1="551.60" y1="124.10" x2="564.40" y2="124.10" stroke="#151515" stroke-width="1.6" />
<circle cx="558.00" cy="108.00" r="1.9" fill="#fff" stroke="#2a2a2a" stroke-width="0.7" stroke-opacity="0.85"/>
<circle cx="558.00" cy="130.70" r="1.9" fill="#fff" stroke="#2a2a2a" stroke-width="0.7" stroke-opacity="0.85"/>
<circle cx="554.00" cy="121.00" r="1.9" fill="none" stroke="#2a2a2a" stroke-width="0.7" stroke-opacity="0.85"/>
<line x1="555.00" y1="109.50" x2="561.00" y2="109.50" stroke="#151515" stroke-width="1.3" />
<line x1="555.00" y1="129.20" x2="561.00" y2="129.20" stroke="#151515" stroke-width="1.3" />
<line x1="572.90" y1="135.60" x2="572.90" y2="139.40" stroke="#1a1a1a" stroke-width="1.1" />
<line x1="572.90" y1="111.50" x2="572.90" y2="115.60" stroke="#151515" stroke-width="1.1" />
<line x1="569.90" y1="111.50" x2="575.90" y2="111.50" stroke="#151515" stroke-width="1.3" />
<line x1="572.90" y1="124.60" x2="572.90" y2="129.70" stroke="#151515" stroke-width="1.1" />
<line x1="569.90" y1="129.70" x2="575.90" y2="129.70" stroke="#151515" stroke-width="1.3" />
<rect x="566.50" y="115.60" width="12.80" height="9.00" fill="#798ca1" stroke="#151515" stroke-width="1.3"/>
<line x1="566.50" y1="119.60" x2="579.30" y2="119.60" stroke="#151515" stroke-width="1.6" />
<circle cx="572.90" cy="110.50" r="1.9" fill="#fff" stroke="#2a2a2a" stroke-width="0.7" stroke-opacity="0.85"/>
<circle cx="572.90" cy="130.70" r="1.9" fill="#fff" stroke="#2a2a2a" stroke-width="0.7" stroke-opacity="0.85"/>
<circle cx="572.90" cy="119.60" r="1.9" fill="none" stroke="#2a2a2a" stroke-width="0.7" stroke-opacity="0.85"/>
<line x1="569.90" y1="111.50" x2="575.90" y2="111.50" stroke="#151515" stroke-width="1.3" />
<line x1="569.90" y1="129.70" x2="575.90" y2="129.70" stroke="#151515" stroke-width="1.3" />
<line x1="601.50" y1="135.60" x2="601.50" y2="139.40" stroke="#1a1a1a" stroke-width="1.1" />
<line x1="601.80" y1="110.70" x2="601.80" y2="113.20" stroke="#151515" stroke-width="1.1" />
<line x1="598.80" y1="110.70" x2="604.80" y2="110.70" stroke="#151515" stroke-width="1.3" />
<rect x="595.40" y="113.20" width="12.80" height="14.00" fill="#874a50" stroke="#151515" stroke-width="1.3"/>
<line x1="595.40" y1="119.00" x2="608.20" y2="119.00" stroke="#151515" stroke-width="1.6" />
<circle cx="601.80" cy="109.30" r="1.9" fill="#fff" stroke="#2a2a2a" stroke-width="0.7" stroke-opacity="0.85"/>
<circle cx="597.30" cy="128.00" r="1.9" fill="#fff" stroke="#2a2a2a" stroke-width="0.7" stroke-opacity="0.85"/>
<circle cx="606.30" cy="128.00" r="1.9" fill="#fff" stroke="#2a2a2a" stroke-width="0.7" stroke-opacity="0.85"/>
<circle cx="601.80" cy="119.00" r="1.9" fill="none" stroke="#2a2a2a" stroke-width="0.7" stroke-opacity="0.85"/>
<line x1="598.80" y1="110.70" x2="604.80" y2="110.70" stroke="#151515" stroke-width="1.3" />
<line x1="616.40" y1="135.60" x2="616.40" y2="139.40" stroke="#1a1a1a" stroke-width="1.1" />
<line x1="616.70" y1="74.70" x2="616.70" y2="79.50" stroke="#151515" stroke-width="1.1" />
<line x1="613.70" y1="74.70" x2="619.70" y2="74.70" stroke="#151515" stroke-width="1.3" />
<rect x="610.30" y="79.50" width="12.80" height="31.20" fill="#874a50" stroke="#151515" stroke-width="1.3"/>
<line x1="610.30" y1="85.70" x2="623.10" y2="85.70" stroke="#151515" stroke-width="1.6" />
<circle cx="616.70" cy="72.80" r="1.9" fill="#fff" stroke="#2a2a2a" stroke-width="0.7" stroke-opacity="0.85"/>
<circle cx="612.20" cy="113.20" r="1.9" fill="#fff" stroke="#2a2a2a" stroke-width="0.7" stroke-opacity="0.85"/>
<circle cx="620.70" cy="83.40" r="1.9" fill="none" stroke="#2a2a2a" stroke-width="0.7" stroke-opacity="0.85"/>
<circle cx="620.70" cy="108.40" r="1.9" fill="none" stroke="#2a2a2a" stroke-width="0.7" stroke-opacity="0.85"/>
<line x1="613.70" y1="74.70" x2="619.70" y2="74.70" stroke="#151515" stroke-width="1.3" />
<line x1="631.40" y1="135.60" x2="631.40" y2="139.40" stroke="#1a1a1a" stroke-width="1.1" />
<line x1="631.70" y1="92.00" x2="631.70" y2="102.20" stroke="#151515" stroke-width="1.1" />
<line x1="628.70" y1="92.00" x2="634.70" y2="92.00" stroke="#151515" stroke-width="1.3" />
<line x1="631.70" y1="119.90" x2="631.70" y2="122.20" stroke="#151515" stroke-width="1.1" />
<line x1="628.70" y1="122.20" x2="634.70" y2="122.20" stroke="#151515" stroke-width="1.3" />
<rect x="625.30" y="102.20" width="12.80" height="17.70" fill="#874a50" stroke="#151515" stroke-width="1.3"/>
<line x1="625.30" y1="118.00" x2="638.10" y2="118.00" stroke="#151515" stroke-width="1.6" />
<circle cx="631.70" cy="90.10" r="1.9" fill="#fff" stroke="#2a2a2a" stroke-width="0.7" stroke-opacity="0.85"/>
<circle cx="627.20" cy="122.80" r="1.9" fill="#fff" stroke="#2a2a2a" stroke-width="0.7" stroke-opacity="0.85"/>
<circle cx="631.70" cy="110.70" r="1.9" fill="none" stroke="#2a2a2a" stroke-width="0.7" stroke-opacity="0.85"/>
<line x1="628.70" y1="92.00" x2="634.70" y2="92.00" stroke="#151515" stroke-width="1.3" />
<line x1="628.70" y1="122.20" x2="634.70" y2="122.20" stroke="#151515" stroke-width="1.3" />
<line x1="646.60" y1="135.60" x2="646.60" y2="139.40" stroke="#1a1a1a" stroke-width="1.1" />
<line x1="646.80" y1="81.80" x2="646.80" y2="88.20" stroke="#151515" stroke-width="1.1" />
<line x1="643.80" y1="81.80" x2="649.80" y2="81.80" stroke="#151515" stroke-width="1.3" />
<line x1="646.80" y1="104.50" x2="646.80" y2="107.40" stroke="#151515" stroke-width="1.1" />
<line x1="643.80" y1="107.40" x2="649.80" y2="107.40" stroke="#151515" stroke-width="1.3" />
<rect x="640.40" y="88.20" width="12.80" height="16.30" fill="#874a50" stroke="#151515" stroke-width="1.3"/>
<line x1="640.40" y1="99.20" x2="653.20" y2="99.20" stroke="#151515" stroke-width="1.6" />
<circle cx="646.80" cy="79.50" r="1.9" fill="#fff" stroke="#2a2a2a" stroke-width="0.7" stroke-opacity="0.85"/>
<circle cx="646.80" cy="109.90" r="1.9" fill="#fff" stroke="#2a2a2a" stroke-width="0.7" stroke-opacity="0.85"/>
<circle cx="646.80" cy="94.90" r="1.9" fill="none" stroke="#2a2a2a" stroke-width="0.7" stroke-opacity="0.85"/>
<line x1="643.80" y1="81.80" x2="649.80" y2="81.80" stroke="#151515" stroke-width="1.3" />
<line x1="643.80" y1="107.40" x2="649.80" y2="107.40" stroke="#151515" stroke-width="1.3" />
<text x="528.20" y="147.80" font-size="8.0" font-weight="bold" font-style="normal" text-anchor="middle" fill="#111" >A</text>
<text x="529.00" y="154.80" font-size="7.6" font-weight="normal" font-style="normal" text-anchor="middle" fill="#1a1a1a" >-</text>
<text x="529.00" y="165.10" font-size="7.6" font-weight="normal" font-style="normal" text-anchor="middle" fill="#1a1a1a" >-</text>
<text x="543.20" y="147.80" font-size="8.0" font-weight="bold" font-style="normal" text-anchor="middle" fill="#111" >B</text>
<text x="543.50" y="156.20" font-size="8.4" font-weight="normal" font-style="normal" text-anchor="middle" fill="#1a1a1a" >+</text>
<text x="544.00" y="165.10" font-size="7.6" font-weight="normal" font-style="normal" text-anchor="middle" fill="#1a1a1a" >-</text>
<text x="558.00" y="147.80" font-size="8.0" font-weight="bold" font-style="normal" text-anchor="middle" fill="#111" >C</text>
<text x="558.80" y="154.80" font-size="7.6" font-weight="normal" font-style="normal" text-anchor="middle" fill="#1a1a1a" >-</text>
<text x="558.30" y="166.50" font-size="8.4" font-weight="normal" font-style="normal" text-anchor="middle" fill="#1a1a1a" >+</text>
<text x="572.90" y="147.80" font-size="8.0" font-weight="bold" font-style="normal" text-anchor="middle" fill="#111" >D</text>
<text x="573.20" y="156.20" font-size="8.4" font-weight="normal" font-style="normal" text-anchor="middle" fill="#1a1a1a" >+</text>
<text x="573.20" y="166.50" font-size="8.4" font-weight="normal" font-style="normal" text-anchor="middle" fill="#1a1a1a" >+</text>
<text x="601.50" y="147.80" font-size="8.0" font-weight="bold" font-style="normal" text-anchor="middle" fill="#111" >A</text>
<text x="602.30" y="154.80" font-size="7.6" font-weight="normal" font-style="normal" text-anchor="middle" fill="#1a1a1a" >-</text>
<text x="602.30" y="165.10" font-size="7.6" font-weight="normal" font-style="normal" text-anchor="middle" fill="#1a1a1a" >-</text>
<text x="616.40" y="147.80" font-size="8.0" font-weight="bold" font-style="normal" text-anchor="middle" fill="#111" >B</text>
<text x="616.70" y="156.20" font-size="8.4" font-weight="normal" font-style="normal" text-anchor="middle" fill="#1a1a1a" >+</text>
<text x="617.20" y="165.10" font-size="7.6" font-weight="normal" font-style="normal" text-anchor="middle" fill="#1a1a1a" >-</text>
<text x="631.40" y="147.80" font-size="8.0" font-weight="bold" font-style="normal" text-anchor="middle" fill="#111" >C</text>
<text x="632.20" y="154.80" font-size="7.6" font-weight="normal" font-style="normal" text-anchor="middle" fill="#1a1a1a" >-</text>
<text x="631.70" y="166.50" font-size="8.4" font-weight="normal" font-style="normal" text-anchor="middle" fill="#1a1a1a" >+</text>
<text x="646.60" y="147.80" font-size="8.0" font-weight="bold" font-style="normal" text-anchor="middle" fill="#111" >D</text>
<text x="646.90" y="156.20" font-size="8.4" font-weight="normal" font-style="normal" text-anchor="middle" fill="#1a1a1a" >+</text>
<text x="646.90" y="166.50" font-size="8.4" font-weight="normal" font-style="normal" text-anchor="middle" fill="#1a1a1a" >+</text>
<text x="490.30" y="155.50" font-size="7.9" font-weight="normal" font-style="normal" text-anchor="start" fill="#222" textLength="21.8" lengthAdjust="spacingAndGlyphs" stroke="#222" stroke-width="0.25">PD-L1</text>
<text x="490.30" y="164.70" font-size="8.3" font-weight="normal" font-style="normal" text-anchor="start" fill="#222" textLength="35.4" lengthAdjust="spacingAndGlyphs" stroke="#222" stroke-width="0.25">Nivolumab</text>
<path d="M544.20,45.20 H616.30" fill="none" stroke="#1c1c1c" stroke-width="1.25" stroke-dasharray="2.6,2.3"/>
<line x1="544.20" y1="46.50" x2="544.20" y2="48.10" stroke="#1c1c1c" stroke-width="1.1" />
<line x1="616.30" y1="46.50" x2="616.30" y2="48.10" stroke="#1c1c1c" stroke-width="1.1" />
<text x="580.75" y="45.30" font-size="7.2" font-weight="bold" font-style="normal" text-anchor="middle" fill="#222" letter-spacing="0.7">***</text>
<path d="M602.40,59.80 V57.20 H644.60 V59.80" fill="none" stroke="#151515" stroke-width="1.05"/>
<text x="624.00" y="57.30" font-size="7.2" font-weight="bold" font-style="normal" text-anchor="middle" fill="#222" letter-spacing="0.7">**</text>
<path d="M602.40,68.20 V65.60 H615.80 V68.20" fill="none" stroke="#151515" stroke-width="1.05"/>
<text x="609.60" y="65.70" font-size="7.2" font-weight="bold" font-style="normal" text-anchor="middle" fill="#222" letter-spacing="0.7">***</text>
<path d="M617.80,68.20 V65.60 H631.70 V68.20" fill="none" stroke="#151515" stroke-width="1.05"/>
<text x="625.25" y="65.70" font-size="7.2" font-weight="bold" font-style="normal" text-anchor="middle" fill="#222" letter-spacing="0.7">*</text>
<text x="-1.20" y="191.60" font-size="18" font-weight="normal" font-style="normal" text-anchor="start" fill="#1e1e1e" letter-spacing="0.8">D.</text>
<text x="125.40" y="197.80" font-size="9.4" font-weight="bold" font-style="italic" text-anchor="middle" fill="#111" textLength="32.7" lengthAdjust="spacingAndGlyphs">CALCR</text>
<text x="124.60" y="209.10" font-size="9" font-weight="normal" font-style="normal" text-anchor="middle" fill="#555" >n=5</text>
<rect x="197.50" y="210.90" width="3.4" height="3.4" fill="#798ca1" stroke="#222" stroke-width="1"/>
<rect x="197.50" y="218.90" width="3.4" height="3.4" fill="#874a50" stroke="#222" stroke-width="1"/>
<text x="209.90" y="215.40" font-size="7.6" font-weight="normal" font-style="normal" text-anchor="start" fill="#2a2a2a" textLength="13.4" lengthAdjust="spacingAndGlyphs">Con</text>
<text x="209.90" y="223.40" font-size="7.6" font-weight="normal" font-style="normal" text-anchor="start" fill="#2a2a2a" >Ex</text>
<text transform="translate(26.30,259.30) rotate(-90)" font-size="7.5" font-weight="bold" text-anchor="middle" fill="#1a1a1a" stroke="#1a1a1a" stroke-width="0.2" textLength="88.6" lengthAdjust="spacingAndGlyphs">Relative gene expression</text>
<text transform="translate(34.10,260.10) rotate(-90)" font-size="7.5" font-weight="bold" text-anchor="middle" fill="#1a1a1a" stroke="#1a1a1a" stroke-width="0.2" textLength="45.5" lengthAdjust="spacingAndGlyphs">(fold change)</text>
<line x1="52.40" y1="210.40" x2="52.40" y2="308.70" stroke="#1a1a1a" stroke-width="1.3" />
<text transform="translate(47.40,310.95) scale(0.95,1)" font-size="8" font-weight="bold" text-anchor="end" fill="#1a1a1a" stroke="#1a1a1a" stroke-width="0.3">0</text>
<line x1="48.00" y1="275.73" x2="52.40" y2="275.73" stroke="#1a1a1a" stroke-width="1.1" />
<text transform="translate(47.40,278.58) scale(0.95,1)" font-size="8" font-weight="bold" text-anchor="end" fill="#1a1a1a" stroke="#1a1a1a" stroke-width="0.3">5</text>
<line x1="48.00" y1="243.37" x2="52.40" y2="243.37" stroke="#1a1a1a" stroke-width="1.1" />
<text transform="translate(47.40,246.22) scale(0.95,1)" font-size="8" font-weight="bold" text-anchor="end" fill="#1a1a1a" stroke="#1a1a1a" stroke-width="0.3">10</text>
<line x1="48.00" y1="211.00" x2="52.40" y2="211.00" stroke="#1a1a1a" stroke-width="1.1" />
<text transform="translate(47.40,213.85) scale(0.95,1)" font-size="8" font-weight="bold" text-anchor="end" fill="#1a1a1a" stroke="#1a1a1a" stroke-width="0.3">15</text>
<line x1="48.00" y1="308.10" x2="198.60" y2="308.10" stroke="#8a8a8a" stroke-width="1.1" />
<line x1="66.20" y1="308.10" x2="66.20" y2="311.90" stroke="#1a1a1a" stroke-width="1.1" />
<rect x="59.80" y="287.30" width="12.80" height="19.90" fill="#798ca1" stroke="#151515" stroke-width="1.3"/>
<line x1="59.80" y1="306.70" x2="72.60" y2="306.70" stroke="#151515" stroke-width="1.6" />
<circle cx="63.70" cy="285.30" r="1.9" fill="#fff" stroke="#2a2a2a" stroke-width="0.7" stroke-opacity="0.85"/>
<circle cx="68.20" cy="287.60" r="1.9" fill="none" stroke="#2a2a2a" stroke-width="0.7" stroke-opacity="0.85"/>
<circle cx="62.20" cy="308.30" r="1.9" fill="none" stroke="#2a2a2a" stroke-width="0.7" stroke-opacity="0.85"/>
<circle cx="70.20" cy="308.30" r="1.9" fill="none" stroke="#2a2a2a" stroke-width="0.7" stroke-opacity="0.85"/>
<line x1="81.20" y1="308.10" x2="81.20" y2="311.90" stroke="#1a1a1a" stroke-width="1.1" />
<line x1="81.20" y1="288.30" x2="81.20" y2="294.60" stroke="#151515" stroke-width="1.1" />
<line x1="78.20" y1="288.30" x2="84.20" y2="288.30" stroke="#151515" stroke-width="1.3" />
<rect x="74.80" y="294.60" width="12.80" height="12.60" fill="#798ca1" stroke="#151515" stroke-width="1.3"/>
<line x1="74.80" y1="306.70" x2="87.60" y2="306.70" stroke="#151515" stroke-width="1.6" />
<circle cx="81.20" cy="287.00" r="1.9" fill="#fff" stroke="#2a2a2a" stroke-width="0.7" stroke-opacity="0.85"/>
<circle cx="81.20" cy="300.10" r="1.9" fill="none" stroke="#2a2a2a" stroke-width="0.7" stroke-opacity="0.85"/>
<circle cx="77.20" cy="308.30" r="1.9" fill="none" stroke="#2a2a2a" stroke-width="0.7" stroke-opacity="0.85"/>
<circle cx="85.20" cy="308.30" r="1.9" fill="none" stroke="#2a2a2a" stroke-width="0.7" stroke-opacity="0.85"/>
<line x1="78.20" y1="288.30" x2="84.20" y2="288.30" stroke="#151515" stroke-width="1.3" />
<line x1="96.00" y1="308.10" x2="96.00" y2="311.90" stroke="#1a1a1a" stroke-width="1.1" />
<line x1="96.00" y1="288.30" x2="96.00" y2="296.30" stroke="#151515" stroke-width="1.1" />
<line x1="93.00" y1="288.30" x2="99.00" y2="288.30" stroke="#151515" stroke-width="1.3" />
<rect x="89.60" y="296.30" width="12.80" height="9.90" fill="#798ca1" stroke="#151515" stroke-width="1.3"/>
<line x1="89.60" y1="305.40" x2="102.40" y2="305.40" stroke="#151515" stroke-width="1.6" />
<circle cx="96.00" cy="287.00" r="1.9" fill="#fff" stroke="#2a2a2a" stroke-width="0.7" stroke-opacity="0.85"/>
<circle cx="95.00" cy="303.00" r="1.9" fill="none" stroke="#2a2a2a" stroke-width="0.7" stroke-opacity="0.85"/>
<circle cx="92.00" cy="308.30" r="1.9" fill="none" stroke="#2a2a2a" stroke-width="0.7" stroke-opacity="0.85"/>
<line x1="93.00" y1="288.30" x2="99.00" y2="288.30" stroke="#151515" stroke-width="1.3" />
<line x1="110.90" y1="308.10" x2="110.90" y2="311.90" stroke="#1a1a1a" stroke-width="1.1" />
<line x1="110.90" y1="293.80" x2="110.90" y2="301.40" stroke="#151515" stroke-width="1.1" />
<line x1="107.90" y1="293.80" x2="113.90" y2="293.80" stroke="#151515" stroke-width="1.3" />
<rect x="104.50" y="301.40" width="12.80" height="5.80" fill="#798ca1" stroke="#151515" stroke-width="1.3"/>
<line x1="104.50" y1="306.70" x2="117.30" y2="306.70" stroke="#151515" stroke-width="1.6" />
<circle cx="110.90" cy="292.90" r="1.9" fill="#fff" stroke="#2a2a2a" stroke-width="0.7" stroke-opacity="0.85"/>
<circle cx="106.90" cy="308.30" r="1.9" fill="none" stroke="#2a2a2a" stroke-width="0.7" stroke-opacity="0.85"/>
<circle cx="114.90" cy="308.30" r="1.9" fill="none" stroke="#2a2a2a" stroke-width="0.7" stroke-opacity="0.85"/>
<line x1="107.90" y1="293.80" x2="113.90" y2="293.80" stroke="#151515" stroke-width="1.3" />
<line x1="139.50" y1="308.10" x2="139.50" y2="311.90" stroke="#1a1a1a" stroke-width="1.1" />
<line x1="139.80" y1="303.30" x2="139.80" y2="306.50" stroke="#151515" stroke-width="1.1" />
<line x1="136.80" y1="306.50" x2="142.80" y2="306.50" stroke="#151515" stroke-width="1.3" />
<rect x="133.40" y="279.80" width="12.80" height="23.50" fill="#874a50" stroke="#151515" stroke-width="1.3"/>
<line x1="133.40" y1="300.40" x2="146.20" y2="300.40" stroke="#151515" stroke-width="1.6" />
<circle cx="134.80" cy="278.50" r="1.9" fill="#fff" stroke="#2a2a2a" stroke-width="0.7" stroke-opacity="0.85"/>
<circle cx="144.80" cy="279.30" r="1.9" fill="#fff" stroke="#2a2a2a" stroke-width="0.7" stroke-opacity="0.85"/>
<circle cx="139.80" cy="301.00" r="1.9" fill="none" stroke="#2a2a2a" stroke-width="0.7" stroke-opacity="0.85"/>
<line x1="136.80" y1="306.50" x2="142.80" y2="306.50" stroke="#151515" stroke-width="1.3" />
<line x1="154.40" y1="308.10" x2="154.40" y2="311.90" stroke="#1a1a1a" stroke-width="1.1" />
<line x1="154.70" y1="236.10" x2="154.70" y2="248.90" stroke="#151515" stroke-width="1.1" />
<line x1="151.70" y1="236.10" x2="157.70" y2="236.10" stroke="#151515" stroke-width="1.3" />
<line x1="154.70" y1="277.30" x2="154.70" y2="288.30" stroke="#151515" stroke-width="1.1" />
<line x1="151.70" y1="288.30" x2="157.70" y2="288.30" stroke="#151515" stroke-width="1.3" />
<rect x="148.30" y="248.90" width="12.80" height="28.40" fill="#874a50" stroke="#151515" stroke-width="1.3"/>
<line x1="148.30" y1="262.80" x2="161.10" y2="262.80" stroke="#151515" stroke-width="1.6" />
<circle cx="154.70" cy="235.30" r="1.9" fill="#fff" stroke="#2a2a2a" stroke-width="0.7" stroke-opacity="0.85"/>
<circle cx="154.70" cy="288.70" r="1.9" fill="#fff" stroke="#2a2a2a" stroke-width="0.7" stroke-opacity="0.85"/>
<circle cx="154.70" cy="267.60" r="1.9" fill="none" stroke="#2a2a2a" stroke-width="0.7" stroke-opacity="0.85"/>
<circle cx="150.20" cy="262.50" r="1.9" fill="none" stroke="#2a2a2a" stroke-width="0.7" stroke-opacity="0.85"/>
<circle cx="159.20" cy="262.50" r="1.9" fill="none" stroke="#2a2a2a" stroke-width="0.7" stroke-opacity="0.85"/>
<line x1="151.70" y1="236.10" x2="157.70" y2="236.10" stroke="#151515" stroke-width="1.3" />
<line x1="151.70" y1="288.30" x2="157.70" y2="288.30" stroke="#151515" stroke-width="1.3" />
<line x1="169.40" y1="308.10" x2="169.40" y2="311.90" stroke="#1a1a1a" stroke-width="1.1" />
<line x1="169.70" y1="263.50" x2="169.70" y2="268.80" stroke="#151515" stroke-width="1.1" />
<line x1="166.70" y1="263.50" x2="172.70" y2="263.50" stroke="#151515" stroke-width="1.3" />
<rect x="163.30" y="268.80" width="12.80" height="33.50" fill="#874a50" stroke="#151515" stroke-width="1.3"/>
<line x1="163.30" y1="294.30" x2="176.10" y2="294.30" stroke="#151515" stroke-width="1.6" />
<circle cx="169.70" cy="262.30" r="1.9" fill="#fff" stroke="#2a2a2a" stroke-width="0.7" stroke-opacity="0.85"/>
<circle cx="169.70" cy="273.70" r="1.9" fill="none" stroke="#2a2a2a" stroke-width="0.7" stroke-opacity="0.85"/>
<circle cx="164.70" cy="304.00" r="1.9" fill="#fff" stroke="#2a2a2a" stroke-width="0.7" stroke-opacity="0.85"/>
<line x1="166.70" y1="263.50" x2="172.70" y2="263.50" stroke="#151515" stroke-width="1.3" />
<line x1="184.60" y1="308.10" x2="184.60" y2="311.90" stroke="#1a1a1a" stroke-width="1.1" />
<line x1="184.80" y1="261.10" x2="184.80" y2="268.10" stroke="#151515" stroke-width="1.1" />
<line x1="181.80" y1="261.10" x2="187.80" y2="261.10" stroke="#151515" stroke-width="1.3" />
<line x1="184.80" y1="285.30" x2="184.80" y2="291.90" stroke="#151515" stroke-width="1.1" />
<line x1="181.80" y1="291.90" x2="187.80" y2="291.90" stroke="#151515" stroke-width="1.3" />
<rect x="178.40" y="268.10" width="12.80" height="17.20" fill="#874a50" stroke="#151515" stroke-width="1.3"/>
<line x1="178.40" y1="278.50" x2="191.20" y2="278.50" stroke="#151515" stroke-width="1.6" />
<circle cx="184.80" cy="260.30" r="1.9" fill="#fff" stroke="#2a2a2a" stroke-width="0.7" stroke-opacity="0.85"/>
<circle cx="184.80" cy="292.40" r="1.9" fill="#fff" stroke="#2a2a2a" stroke-width="0.7" stroke-opacity="0.85"/>
<circle cx="184.80" cy="274.90" r="1.9" fill="none" stroke="#2a2a2a" stroke-width="0.7" stroke-opacity="0.85"/>
<circle cx="180.30" cy="278.50" r="1.9" fill="none" stroke="#2a2a2a" stroke-width="0.7" stroke-opacity="0.85"/>
<line x1="181.80" y1="261.10" x2="187.80" y2="261.10" stroke="#151515" stroke-width="1.3" />
<line x1="181.80" y1="291.90" x2="187.80" y2="291.90" stroke="#151515" stroke-width="1.3" />
<text x="66.20" y="320.30" font-size="8.0" font-weight="bold" font-style="normal" text-anchor="middle" fill="#111" >A</text>
<text x="67.00" y="327.30" font-size="7.6" font-weight="normal" font-style="normal" text-anchor="middle" fill="#1a1a1a" >-</text>
<text x="67.00" y="337.60" font-size="7.6" font-weight="normal" font-style="normal" text-anchor="middle" fill="#1a1a1a" >-</text>
<text x="81.20" y="320.30" font-size="8.0" font-weight="bold" font-style="normal" text-anchor="middle" fill="#111" >B</text>
<text x="81.50" y="328.70" font-size="8.4" font-weight="normal" font-style="normal" text-anchor="middle" fill="#1a1a1a" >+</text>
<text x="82.00" y="337.60" font-size="7.6" font-weight="normal" font-style="normal" text-anchor="middle" fill="#1a1a1a" >-</text>
<text x="96.00" y="320.30" font-size="8.0" font-weight="bold" font-style="normal" text-anchor="middle" fill="#111" >C</text>
<text x="96.80" y="327.30" font-size="7.6" font-weight="normal" font-style="normal" text-anchor="middle" fill="#1a1a1a" >-</text>
<text x="96.30" y="339.00" font-size="8.4" font-weight="normal" font-style="normal" text-anchor="middle" fill="#1a1a1a" >+</text>
<text x="110.90" y="320.30" font-size="8.0" font-weight="bold" font-style="normal" text-anchor="middle" fill="#111" >D</text>
<text x="111.20" y="328.70" font-size="8.4" font-weight="normal" font-style="normal" text-anchor="middle" fill="#1a1a1a" >+</text>
<text x="111.20" y="339.00" font-size="8.4" font-weight="normal" font-style="normal" text-anchor="middle" fill="#1a1a1a" >+</text>
<text x="139.50" y="320.30" font-size="8.0" font-weight="bold" font-style="normal" text-anchor="middle" fill="#111" >A</text>
<text x="140.30" y="327.30" font-size="7.6" font-weight="normal" font-style="normal" text-anchor="middle" fill="#1a1a1a" >-</text>
<text x="140.30" y="337.60" font-size="7.6" font-weight="normal" font-style="normal" text-anchor="middle" fill="#1a1a1a" >-</text>
<text x="154.40" y="320.30" font-size="8.0" font-weight="bold" font-style="normal" text-anchor="middle" fill="#111" >B</text>
<text x="154.70" y="328.70" font-size="8.4" font-weight="normal" font-style="normal" text-anchor="middle" fill="#1a1a1a" >+</text>
<text x="155.20" y="337.60" font-size="7.6" font-weight="normal" font-style="normal" text-anchor="middle" fill="#1a1a1a" >-</text>
<text x="169.40" y="320.30" font-size="8.0" font-weight="bold" font-style="normal" text-anchor="middle" fill="#111" >C</text>
<text x="170.20" y="327.30" font-size="7.6" font-weight="normal" font-style="normal" text-anchor="middle" fill="#1a1a1a" >-</text>
<text x="169.70" y="339.00" font-size="8.4" font-weight="normal" font-style="normal" text-anchor="middle" fill="#1a1a1a" >+</text>
<text x="184.60" y="320.30" font-size="8.0" font-weight="bold" font-style="normal" text-anchor="middle" fill="#111" >D</text>
<text x="184.90" y="328.70" font-size="8.4" font-weight="normal" font-style="normal" text-anchor="middle" fill="#1a1a1a" >+</text>
<text x="184.90" y="339.00" font-size="8.4" font-weight="normal" font-style="normal" text-anchor="middle" fill="#1a1a1a" >+</text>
<text x="28.30" y="328.00" font-size="7.9" font-weight="normal" font-style="normal" text-anchor="start" fill="#222" textLength="21.8" lengthAdjust="spacingAndGlyphs" stroke="#222" stroke-width="0.25">PD-L1</text>
<text x="28.30" y="337.20" font-size="8.3" font-weight="normal" font-style="normal" text-anchor="start" fill="#222" textLength="35.4" lengthAdjust="spacingAndGlyphs" stroke="#222" stroke-width="0.25">Nivolumab</text>
<path d="M81.40,219.50 H154.60" fill="none" stroke="#1c1c1c" stroke-width="1.25" stroke-dasharray="2.6,2.3"/>
<line x1="81.40" y1="220.80" x2="81.40" y2="222.40" stroke="#1c1c1c" stroke-width="1.1" />
<line x1="154.60" y1="220.80" x2="154.60" y2="222.40" stroke="#1c1c1c" stroke-width="1.1" />
<text x="118.50" y="219.60" font-size="7.2" font-weight="bold" font-style="normal" text-anchor="middle" fill="#222" letter-spacing="0.7">****</text>
<path d="M139.30,231.60 V229.00 H152.80 V231.60" fill="none" stroke="#151515" stroke-width="1.05"/>
<text x="146.55" y="229.10" font-size="7.2" font-weight="bold" font-style="normal" text-anchor="middle" fill="#222" letter-spacing="0.7">**</text>
<path d="M155.50,231.60 V229.00 H169.50 V231.60" fill="none" stroke="#151515" stroke-width="1.05"/>
<text x="163.00" y="229.10" font-size="7.2" font-weight="bold" font-style="normal" text-anchor="middle" fill="#222" letter-spacing="0.7">*</text>
<text x="237.20" y="191.80" font-size="18" font-weight="normal" font-style="normal" text-anchor="start" fill="#1e1e1e" letter-spacing="0.8">E.</text>
<text x="357.90" y="194.00" font-size="9.4" font-weight="bold" font-style="italic" text-anchor="middle" fill="#111" textLength="29.5" lengthAdjust="spacingAndGlyphs">MMP9</text>
<text x="357.10" y="205.90" font-size="9" font-weight="normal" font-style="normal" text-anchor="middle" fill="#555" >n=5</text>
<rect x="429.50" y="210.90" width="3.4" height="3.4" fill="#798ca1" stroke="#222" stroke-width="1"/>
<rect x="429.50" y="218.90" width="3.4" height="3.4" fill="#874a50" stroke="#222" stroke-width="1"/>
<text x="441.90" y="215.40" font-size="7.6" font-weight="normal" font-style="normal" text-anchor="start" fill="#2a2a2a" textLength="13.4" lengthAdjust="spacingAndGlyphs">Con</text>
<text x="441.90" y="223.40" font-size="7.6" font-weight="normal" font-style="normal" text-anchor="start" fill="#2a2a2a" >Ex</text>
<text transform="translate(262.10,259.30) rotate(-90)" font-size="7.5" font-weight="bold" text-anchor="middle" fill="#1a1a1a" stroke="#1a1a1a" stroke-width="0.2" textLength="88.6" lengthAdjust="spacingAndGlyphs">Relative gene expression</text>
<text transform="translate(269.90,261.70) rotate(-90)" font-size="7.5" font-weight="bold" text-anchor="middle" fill="#1a1a1a" stroke="#1a1a1a" stroke-width="0.2" textLength="51.0" lengthAdjust="spacingAndGlyphs">(fold change)</text>
<line x1="284.40" y1="210.20" x2="284.40" y2="308.90" stroke="#1a1a1a" stroke-width="1.3" />
<text transform="translate(279.40,311.15) scale(0.95,1)" font-size="8" font-weight="bold" text-anchor="end" fill="#333">0</text>
<line x1="280.00" y1="275.80" x2="284.40" y2="275.80" stroke="#1a1a1a" stroke-width="1.1" />
<text transform="translate(279.40,278.65) scale(0.95,1)" font-size="8" font-weight="bold" text-anchor="end" fill="#333">1</text>
<line x1="280.00" y1="243.30" x2="284.40" y2="243.30" stroke="#1a1a1a" stroke-width="1.1" />
<text transform="translate(279.40,246.15) scale(0.95,1)" font-size="8" font-weight="bold" text-anchor="end" fill="#333">2</text>
<line x1="280.00" y1="210.80" x2="284.40" y2="210.80" stroke="#1a1a1a" stroke-width="1.1" />
<text transform="translate(279.40,213.65) scale(0.95,1)" font-size="8" font-weight="bold" text-anchor="end" fill="#333">3</text>
<line x1="280.00" y1="308.30" x2="430.60" y2="308.30" stroke="#333" stroke-width="1.3" />
<line x1="298.20" y1="308.30" x2="298.20" y2="312.10" stroke="#1a1a1a" stroke-width="1.1" />
<line x1="298.20" y1="284.30" x2="298.20" y2="289.60" stroke="#151515" stroke-width="1.1" />
<line x1="295.20" y1="289.60" x2="301.20" y2="289.60" stroke="#151515" stroke-width="1.3" />
<rect x="291.80" y="265.80" width="12.80" height="18.50" fill="#798ca1" stroke="#151515" stroke-width="1.3"/>
<line x1="291.80" y1="271.20" x2="304.60" y2="271.20" stroke="#151515" stroke-width="1.6" />
<circle cx="293.20" cy="263.40" r="1.9" fill="#fff" stroke="#2a2a2a" stroke-width="0.7" stroke-opacity="0.85"/>
<circle cx="298.20" cy="290.60" r="1.9" fill="#fff" stroke="#2a2a2a" stroke-width="0.7" stroke-opacity="0.85"/>
<circle cx="298.20" cy="280.30" r="1.9" fill="none" stroke="#2a2a2a" stroke-width="0.7" stroke-opacity="0.85"/>
<circle cx="298.20" cy="271.80" r="1.9" fill="none" stroke="#2a2a2a" stroke-width="0.7" stroke-opacity="0.85"/>
<line x1="295.20" y1="289.60" x2="301.20" y2="289.60" stroke="#151515" stroke-width="1.3" />
<line x1="313.20" y1="308.30" x2="313.20" y2="312.10" stroke="#1a1a1a" stroke-width="1.1" />
<line x1="313.20" y1="282.30" x2="313.20" y2="290.60" stroke="#151515" stroke-width="1.1" />
<line x1="310.20" y1="290.60" x2="316.20" y2="290.60" stroke="#151515" stroke-width="1.3" />
<rect x="306.80" y="250.00" width="12.80" height="32.30" fill="#798ca1" stroke="#151515" stroke-width="1.3"/>
<line x1="306.80" y1="261.80" x2="319.60" y2="261.80" stroke="#151515" stroke-width="1.6" />
<circle cx="308.70" cy="247.40" r="1.9" fill="#fff" stroke="#2a2a2a" stroke-width="0.7" stroke-opacity="0.85"/>
<circle cx="318.20" cy="249.00" r="1.9" fill="#fff" stroke="#2a2a2a" stroke-width="0.7" stroke-opacity="0.85"/>
<circle cx="313.20" cy="275.10" r="1.9" fill="none" stroke="#2a2a2a" stroke-width="0.7" stroke-opacity="0.85"/>
<circle cx="313.20" cy="261.80" r="1.9" fill="none" stroke="#2a2a2a" stroke-width="0.7" stroke-opacity="0.85"/>
<line x1="310.20" y1="290.60" x2="316.20" y2="290.60" stroke="#151515" stroke-width="1.3" />
<line x1="328.00" y1="308.30" x2="328.00" y2="312.10" stroke="#1a1a1a" stroke-width="1.1" />
<line x1="328.00" y1="283.70" x2="328.00" y2="285.10" stroke="#151515" stroke-width="1.1" />
<line x1="325.00" y1="283.70" x2="331.00" y2="283.70" stroke="#151515" stroke-width="1.3" />
<line x1="328.00" y1="299.50" x2="328.00" y2="306.10" stroke="#151515" stroke-width="1.1" />
<line x1="325.00" y1="306.10" x2="331.00" y2="306.10" stroke="#151515" stroke-width="1.3" />
<rect x="321.60" y="285.10" width="12.80" height="14.40" fill="#798ca1" stroke="#151515" stroke-width="1.3"/>
<line x1="321.60" y1="294.20" x2="334.40" y2="294.20" stroke="#151515" stroke-width="1.6" />
<circle cx="323.00" cy="282.70" r="1.9" fill="#fff" stroke="#2a2a2a" stroke-width="0.7" stroke-opacity="0.85"/>
<circle cx="328.00" cy="306.90" r="1.9" fill="none" stroke="#2a2a2a" stroke-width="0.7" stroke-opacity="0.85"/>
<circle cx="332.50" cy="289.00" r="1.9" fill="none" stroke="#2a2a2a" stroke-width="0.7" stroke-opacity="0.85"/>
<line x1="325.00" y1="283.70" x2="331.00" y2="283.70" stroke="#151515" stroke-width="1.3" />
<line x1="325.00" y1="306.10" x2="331.00" y2="306.10" stroke="#151515" stroke-width="1.3" />
<line x1="342.90" y1="308.30" x2="342.90" y2="312.10" stroke="#1a1a1a" stroke-width="1.1" />
<line x1="342.90" y1="280.30" x2="342.90" y2="287.60" stroke="#151515" stroke-width="1.1" />
<line x1="339.90" y1="280.30" x2="345.90" y2="280.30" stroke="#151515" stroke-width="1.3" />
<rect x="336.50" y="287.60" width="12.80" height="12.90" fill="#798ca1" stroke="#151515" stroke-width="1.3"/>
<line x1="336.50" y1="295.60" x2="349.30" y2="295.60" stroke="#151515" stroke-width="1.6" />
<circle cx="342.90" cy="279.70" r="1.9" fill="#fff" stroke="#2a2a2a" stroke-width="0.7" stroke-opacity="0.85"/>
<circle cx="338.40" cy="302.10" r="1.9" fill="#fff" stroke="#2a2a2a" stroke-width="0.7" stroke-opacity="0.85"/>
<circle cx="347.40" cy="301.50" r="1.9" fill="#fff" stroke="#2a2a2a" stroke-width="0.7" stroke-opacity="0.85"/>
<line x1="339.90" y1="280.30" x2="345.90" y2="280.30" stroke="#151515" stroke-width="1.3" />
<line x1="371.50" y1="308.30" x2="371.50" y2="312.10" stroke="#1a1a1a" stroke-width="1.1" />
<line x1="371.80" y1="270.60" x2="371.80" y2="273.50" stroke="#151515" stroke-width="1.1" />
<line x1="368.80" y1="270.60" x2="374.80" y2="270.60" stroke="#151515" stroke-width="1.3" />
<line x1="371.80" y1="281.20" x2="371.80" y2="284.00" stroke="#151515" stroke-width="1.1" />
<line x1="368.80" y1="284.00" x2="374.80" y2="284.00" stroke="#151515" stroke-width="1.3" />
<rect x="365.40" y="273.50" width="12.80" height="7.70" fill="#874a50" stroke="#151515" stroke-width="1.3"/>
<line x1="365.40" y1="277.70" x2="378.20" y2="277.70" stroke="#151515" stroke-width="1.6" />
<circle cx="371.80" cy="269.60" r="1.9" fill="#fff" stroke="#2a2a2a" stroke-width="0.7" stroke-opacity="0.85"/>
<circle cx="371.80" cy="285.00" r="1.9" fill="#fff" stroke="#2a2a2a" stroke-width="0.7" stroke-opacity="0.85"/>
<line x1="368.80" y1="270.60" x2="374.80" y2="270.60" stroke="#151515" stroke-width="1.3" />
<line x1="368.80" y1="284.00" x2="374.80" y2="284.00" stroke="#151515" stroke-width="1.3" />
<line x1="386.40" y1="308.30" x2="386.40" y2="312.10" stroke="#1a1a1a" stroke-width="1.1" />
<line x1="386.70" y1="246.90" x2="386.70" y2="253.70" stroke="#151515" stroke-width="1.1" />
<line x1="383.70" y1="246.90" x2="389.70" y2="246.90" stroke="#151515" stroke-width="1.3" />
<rect x="380.30" y="253.70" width="12.80" height="16.90" fill="#874a50" stroke="#151515" stroke-width="1.3"/>
<line x1="380.30" y1="260.00" x2="393.10" y2="260.00" stroke="#151515" stroke-width="1.6" />
<circle cx="386.70" cy="245.60" r="1.9" fill="#fff" stroke="#2a2a2a" stroke-width="0.7" stroke-opacity="0.85"/>
<circle cx="381.70" cy="271.90" r="1.9" fill="#fff" stroke="#2a2a2a" stroke-width="0.7" stroke-opacity="0.85"/>
<circle cx="391.70" cy="270.60" r="1.9" fill="none" stroke="#2a2a2a" stroke-width="0.7" stroke-opacity="0.85"/>
<circle cx="382.20" cy="260.00" r="1.9" fill="none" stroke="#2a2a2a" stroke-width="0.7" stroke-opacity="0.85"/>
<line x1="383.70" y1="246.90" x2="389.70" y2="246.90" stroke="#151515" stroke-width="1.3" />
<line x1="401.40" y1="308.30" x2="401.40" y2="312.10" stroke="#1a1a1a" stroke-width="1.1" />
<line x1="401.70" y1="274.40" x2="401.70" y2="277.70" stroke="#151515" stroke-width="1.1" />
<line x1="398.70" y1="274.40" x2="404.70" y2="274.40" stroke="#151515" stroke-width="1.3" />
<rect x="395.30" y="277.70" width="12.80" height="6.90" fill="#874a50" stroke="#151515" stroke-width="1.3"/>
<line x1="395.30" y1="281.20" x2="408.10" y2="281.20" stroke="#151515" stroke-width="1.6" />
<circle cx="401.70" cy="272.50" r="1.9" fill="#fff" stroke="#2a2a2a" stroke-width="0.7" stroke-opacity="0.85"/>
<circle cx="397.20" cy="285.40" r="1.9" fill="#fff" stroke="#2a2a2a" stroke-width="0.7" stroke-opacity="0.85"/>
<circle cx="406.20" cy="284.60" r="1.9" fill="none" stroke="#2a2a2a" stroke-width="0.7" stroke-opacity="0.85"/>
<line x1="398.70" y1="274.40" x2="404.70" y2="274.40" stroke="#151515" stroke-width="1.3" />
<line x1="416.60" y1="308.30" x2="416.60" y2="312.10" stroke="#1a1a1a" stroke-width="1.1" />
<rect x="410.40" y="259.00" width="12.80" height="21.80" fill="#874a50" stroke="#151515" stroke-width="1.3"/>
<line x1="410.40" y1="279.60" x2="423.20" y2="279.60" stroke="#151515" stroke-width="1.6" />
<circle cx="412.80" cy="257.70" r="1.9" fill="#fff" stroke="#2a2a2a" stroke-width="0.7" stroke-opacity="0.85"/>
<circle cx="412.30" cy="281.20" r="1.9" fill="#fff" stroke="#2a2a2a" stroke-width="0.7" stroke-opacity="0.85"/>
<circle cx="421.30" cy="281.20" r="1.9" fill="#fff" stroke="#2a2a2a" stroke-width="0.7" stroke-opacity="0.85"/>
<text x="298.20" y="320.50" font-size="8.0" font-weight="bold" font-style="normal" text-anchor="middle" fill="#111" >A</text>
<text x="299.00" y="327.30" font-size="7.6" font-weight="normal" font-style="normal" text-anchor="middle" fill="#1a1a1a" >-</text>
<text x="299.00" y="337.60" font-size="7.6" font-weight="normal" font-style="normal" text-anchor="middle" fill="#1a1a1a" >-</text>
<text x="313.20" y="320.50" font-size="8.0" font-weight="bold" font-style="normal" text-anchor="middle" fill="#111" >B</text>
<text x="313.50" y="328.70" font-size="8.4" font-weight="normal" font-style="normal" text-anchor="middle" fill="#1a1a1a" >+</text>
<text x="314.00" y="337.60" font-size="7.6" font-weight="normal" font-style="normal" text-anchor="middle" fill="#1a1a1a" >-</text>
<text x="328.00" y="320.50" font-size="8.0" font-weight="bold" font-style="normal" text-anchor="middle" fill="#111" >C</text>
<text x="328.80" y="327.30" font-size="7.6" font-weight="normal" font-style="normal" text-anchor="middle" fill="#1a1a1a" >-</text>
<text x="328.30" y="339.00" font-size="8.4" font-weight="normal" font-style="normal" text-anchor="middle" fill="#1a1a1a" >+</text>
<text x="342.90" y="320.50" font-size="8.0" font-weight="bold" font-style="normal" text-anchor="middle" fill="#111" >D</text>
<text x="343.20" y="328.70" font-size="8.4" font-weight="normal" font-style="normal" text-anchor="middle" fill="#1a1a1a" >+</text>
<text x="343.20" y="339.00" font-size="8.4" font-weight="normal" font-style="normal" text-anchor="middle" fill="#1a1a1a" >+</text>
<text x="371.50" y="320.50" font-size="8.0" font-weight="bold" font-style="normal" text-anchor="middle" fill="#111" >A</text>
<text x="372.30" y="327.30" font-size="7.6" font-weight="normal" font-style="normal" text-anchor="middle" fill="#1a1a1a" >-</text>
<text x="372.30" y="337.60" font-size="7.6" font-weight="normal" font-style="normal" text-anchor="middle" fill="#1a1a1a" >-</text>
<text x="386.40" y="320.50" font-size="8.0" font-weight="bold" font-style="normal" text-anchor="middle" fill="#111" >B</text>
<text x="386.70" y="328.70" font-size="8.4" font-weight="normal" font-style="normal" text-anchor="middle" fill="#1a1a1a" >+</text>
<text x="387.20" y="337.60" font-size="7.6" font-weight="normal" font-style="normal" text-anchor="middle" fill="#1a1a1a" >-</text>
<text x="401.40" y="320.50" font-size="8.0" font-weight="bold" font-style="normal" text-anchor="middle" fill="#111" >C</text>
<text x="402.20" y="327.30" font-size="7.6" font-weight="normal" font-style="normal" text-anchor="middle" fill="#1a1a1a" >-</text>
<text x="401.70" y="339.00" font-size="8.4" font-weight="normal" font-style="normal" text-anchor="middle" fill="#1a1a1a" >+</text>
<text x="416.60" y="320.50" font-size="8.0" font-weight="bold" font-style="normal" text-anchor="middle" fill="#111" >D</text>
<text x="416.90" y="328.70" font-size="8.4" font-weight="normal" font-style="normal" text-anchor="middle" fill="#1a1a1a" >+</text>
<text x="416.90" y="339.00" font-size="8.4" font-weight="normal" font-style="normal" text-anchor="middle" fill="#1a1a1a" >+</text>
<text x="260.30" y="328.20" font-size="7.9" font-weight="normal" font-style="normal" text-anchor="start" fill="#222" textLength="21.8" lengthAdjust="spacingAndGlyphs" stroke="#222" stroke-width="0.25">PD-L1</text>
<text x="260.30" y="337.40" font-size="8.3" font-weight="normal" font-style="normal" text-anchor="start" fill="#222" textLength="35.4" lengthAdjust="spacingAndGlyphs" stroke="#222" stroke-width="0.25">Nivolumab</text>
<path d="M299.30,219.90 V217.30 H341.70 V219.90" fill="none" stroke="#151515" stroke-width="1.05"/>
<text x="321.00" y="217.40" font-size="7.2" font-weight="bold" font-style="normal" text-anchor="middle" fill="#222" letter-spacing="0.7">*</text>
<path d="M299.30,227.60 V225.00 H327.00 V227.60" fill="none" stroke="#151515" stroke-width="1.05"/>
<text x="313.65" y="225.10" font-size="7.2" font-weight="bold" font-style="normal" text-anchor="middle" fill="#222" letter-spacing="0.7">*</text>
<path d="M314.00,236.00 V233.40 H341.70 V236.00" fill="none" stroke="#151515" stroke-width="1.05"/>
<text x="328.35" y="233.50" font-size="7.2" font-weight="bold" font-style="normal" text-anchor="middle" fill="#222" letter-spacing="0.7">***</text>
<path d="M314.00,243.80 V241.20 H327.50 V243.80" fill="none" stroke="#151515" stroke-width="1.05"/>
<text x="321.25" y="241.30" font-size="7.2" font-weight="bold" font-style="normal" text-anchor="middle" fill="#222" letter-spacing="0.7">***</text>
<path d="M387.00,241.30 V238.70 H401.20 V241.30" fill="none" stroke="#151515" stroke-width="1.05"/>
<text x="394.60" y="238.80" font-size="7.2" font-weight="bold" font-style="normal" text-anchor="middle" fill="#222" letter-spacing="0.7">**</text>
<text x="469.40" y="192.00" font-size="18" font-weight="normal" font-style="normal" text-anchor="start" fill="#1e1e1e" letter-spacing="0.8">F.</text>
<text x="587.90" y="197.30" font-size="9.4" font-weight="bold" font-style="italic" text-anchor="middle" fill="#111" textLength="27.7" lengthAdjust="spacingAndGlyphs">RANK</text>
<text x="587.10" y="208.10" font-size="9" font-weight="normal" font-style="normal" text-anchor="middle" fill="#555" >n=5</text>
<rect x="659.50" y="210.90" width="3.4" height="3.4" fill="#798ca1" stroke="#222" stroke-width="1"/>
<rect x="659.50" y="218.90" width="3.4" height="3.4" fill="#874a50" stroke="#222" stroke-width="1"/>
<text x="671.90" y="215.40" font-size="7.6" font-weight="normal" font-style="normal" text-anchor="start" fill="#2a2a2a" textLength="13.4" lengthAdjust="spacingAndGlyphs">Con</text>
<text x="671.90" y="223.40" font-size="7.6" font-weight="normal" font-style="normal" text-anchor="start" fill="#2a2a2a" >Ex</text>
<text transform="translate(489.10,259.30) rotate(-90)" font-size="7.5" font-weight="bold" text-anchor="middle" fill="#1a1a1a" stroke="#1a1a1a" stroke-width="0.2" textLength="88.6" lengthAdjust="spacingAndGlyphs">Relative gene expression</text>
<text transform="translate(496.90,260.10) rotate(-90)" font-size="7.5" font-weight="bold" text-anchor="middle" fill="#1a1a1a" stroke="#1a1a1a" stroke-width="0.2" textLength="45.5" lengthAdjust="spacingAndGlyphs">(fold change)</text>
<line x1="514.40" y1="209.50" x2="514.40" y2="308.80" stroke="#1a1a1a" stroke-width="1.3" />
<text transform="translate(509.40,311.05) scale(0.95,1)" font-size="8" font-weight="bold" text-anchor="end" fill="#1a1a1a" stroke="#1a1a1a" stroke-width="0.3">0</text>
<line x1="510.00" y1="283.68" x2="514.40" y2="283.68" stroke="#1a1a1a" stroke-width="1.1" />
<text transform="translate(509.40,286.53) scale(0.95,1)" font-size="8" font-weight="bold" text-anchor="end" fill="#1a1a1a" stroke="#1a1a1a" stroke-width="0.3">5</text>
<line x1="510.00" y1="259.15" x2="514.40" y2="259.15" stroke="#1a1a1a" stroke-width="1.1" />
<text transform="translate(509.40,262.00) scale(0.95,1)" font-size="8" font-weight="bold" text-anchor="end" fill="#1a1a1a" stroke="#1a1a1a" stroke-width="0.3">10</text>
<line x1="510.00" y1="234.62" x2="514.40" y2="234.62" stroke="#1a1a1a" stroke-width="1.1" />
<text transform="translate(509.40,237.47) scale(0.95,1)" font-size="8" font-weight="bold" text-anchor="end" fill="#1a1a1a" stroke="#1a1a1a" stroke-width="0.3">15</text>
<line x1="510.00" y1="210.10" x2="514.40" y2="210.10" stroke="#1a1a1a" stroke-width="1.1" />
<text transform="translate(509.40,212.95) scale(0.95,1)" font-size="8" font-weight="bold" text-anchor="end" fill="#1a1a1a" stroke="#1a1a1a" stroke-width="0.3">20</text>
<line x1="510.00" y1="308.20" x2="660.60" y2="308.20" stroke="#222" stroke-width="1.3" />
<line x1="528.20" y1="308.20" x2="528.20" y2="312.00" stroke="#1a1a1a" stroke-width="1.1" />
<line x1="528.20" y1="293.30" x2="528.20" y2="298.20" stroke="#151515" stroke-width="1.1" />
<line x1="525.20" y1="293.30" x2="531.20" y2="293.30" stroke="#151515" stroke-width="1.3" />
<line x1="528.20" y1="305.30" x2="528.20" y2="306.60" stroke="#151515" stroke-width="1.1" />
<line x1="525.20" y1="306.60" x2="531.20" y2="306.60" stroke="#151515" stroke-width="1.3" />
<rect x="521.80" y="298.20" width="12.80" height="7.10" fill="#798ca1" stroke="#151515" stroke-width="1.3"/>
<line x1="521.80" y1="303.50" x2="534.60" y2="303.50" stroke="#151515" stroke-width="1.6" />
<circle cx="528.20" cy="291.80" r="1.9" fill="#fff" stroke="#2a2a2a" stroke-width="0.7" stroke-opacity="0.85"/>
<circle cx="526.20" cy="302.50" r="1.9" fill="none" stroke="#2a2a2a" stroke-width="0.7" stroke-opacity="0.85"/>
<circle cx="530.20" cy="305.00" r="1.9" fill="none" stroke="#2a2a2a" stroke-width="0.7" stroke-opacity="0.85"/>
<line x1="525.20" y1="293.30" x2="531.20" y2="293.30" stroke="#151515" stroke-width="1.3" />
<line x1="525.20" y1="306.60" x2="531.20" y2="306.60" stroke="#151515" stroke-width="1.3" />
<line x1="543.20" y1="308.20" x2="543.20" y2="312.00" stroke="#1a1a1a" stroke-width="1.1" />
<rect x="536.80" y="301.00" width="12.80" height="5.10" fill="#798ca1" stroke="#151515" stroke-width="1.3"/>
<line x1="536.80" y1="303.50" x2="549.60" y2="303.50" stroke="#151515" stroke-width="1.6" />
<circle cx="538.70" cy="299.60" r="1.9" fill="#fff" stroke="#2a2a2a" stroke-width="0.7" stroke-opacity="0.85"/>
<circle cx="543.20" cy="303.50" r="1.9" fill="none" stroke="#2a2a2a" stroke-width="0.7" stroke-opacity="0.85"/>
<circle cx="547.20" cy="306.50" r="1.9" fill="none" stroke="#2a2a2a" stroke-width="0.7" stroke-opacity="0.85"/>
<line x1="558.00" y1="308.20" x2="558.00" y2="312.00" stroke="#1a1a1a" stroke-width="1.1" />
<line x1="558.00" y1="284.90" x2="558.00" y2="294.20" stroke="#151515" stroke-width="1.1" />
<line x1="555.00" y1="284.90" x2="561.00" y2="284.90" stroke="#151515" stroke-width="1.3" />
<rect x="551.60" y="294.20" width="12.80" height="11.90" fill="#798ca1" stroke="#151515" stroke-width="1.3"/>
<line x1="551.60" y1="305.30" x2="564.40" y2="305.30" stroke="#151515" stroke-width="1.6" />
<circle cx="558.00" cy="283.60" r="1.9" fill="#fff" stroke="#2a2a2a" stroke-width="0.7" stroke-opacity="0.85"/>
<circle cx="553.50" cy="300.50" r="1.9" fill="none" stroke="#2a2a2a" stroke-width="0.7" stroke-opacity="0.85"/>
<circle cx="558.00" cy="305.80" r="1.9" fill="none" stroke="#2a2a2a" stroke-width="0.7" stroke-opacity="0.85"/>
<line x1="555.00" y1="284.90" x2="561.00" y2="284.90" stroke="#151515" stroke-width="1.3" />
<line x1="572.90" y1="308.20" x2="572.90" y2="312.00" stroke="#1a1a1a" stroke-width="1.1" />
<line x1="572.90" y1="278.70" x2="572.90" y2="291.40" stroke="#151515" stroke-width="1.1" />
<line x1="569.90" y1="278.70" x2="575.90" y2="278.70" stroke="#151515" stroke-width="1.3" />
<rect x="566.50" y="291.40" width="12.80" height="13.20" fill="#798ca1" stroke="#151515" stroke-width="1.3"/>
<line x1="566.50" y1="303.80" x2="579.30" y2="303.80" stroke="#151515" stroke-width="1.6" />
<circle cx="572.90" cy="277.90" r="1.9" fill="#fff" stroke="#2a2a2a" stroke-width="0.7" stroke-opacity="0.85"/>
<circle cx="572.90" cy="302.00" r="1.9" fill="none" stroke="#2a2a2a" stroke-width="0.7" stroke-opacity="0.85"/>
<circle cx="577.40" cy="305.50" r="1.9" fill="#fff" stroke="#2a2a2a" stroke-width="0.7" stroke-opacity="0.85"/>
<line x1="569.90" y1="278.70" x2="575.90" y2="278.70" stroke="#151515" stroke-width="1.3" />
<line x1="601.50" y1="308.20" x2="601.50" y2="312.00" stroke="#1a1a1a" stroke-width="1.1" />
<line x1="601.80" y1="247.40" x2="601.80" y2="266.40" stroke="#151515" stroke-width="1.1" />
<line x1="598.80" y1="247.40" x2="604.80" y2="247.40" stroke="#151515" stroke-width="1.3" />
<line x1="601.80" y1="294.50" x2="601.80" y2="296.00" stroke="#151515" stroke-width="1.1" />
<line x1="598.80" y1="296.00" x2="604.80" y2="296.00" stroke="#151515" stroke-width="1.3" />
<rect x="595.40" y="266.40" width="12.80" height="28.10" fill="#874a50" stroke="#151515" stroke-width="1.3"/>
<line x1="595.40" y1="288.80" x2="608.20" y2="288.80" stroke="#151515" stroke-width="1.6" />
<circle cx="601.80" cy="246.80" r="1.9" fill="#fff" stroke="#2a2a2a" stroke-width="0.7" stroke-opacity="0.85"/>
<circle cx="596.80" cy="296.60" r="1.9" fill="#fff" stroke="#2a2a2a" stroke-width="0.7" stroke-opacity="0.85"/>
<circle cx="601.80" cy="283.50" r="1.9" fill="none" stroke="#2a2a2a" stroke-width="0.7" stroke-opacity="0.85"/>
<line x1="598.80" y1="247.40" x2="604.80" y2="247.40" stroke="#151515" stroke-width="1.3" />
<line x1="598.80" y1="296.00" x2="604.80" y2="296.00" stroke="#151515" stroke-width="1.3" />
<line x1="616.40" y1="308.20" x2="616.40" y2="312.00" stroke="#1a1a1a" stroke-width="1.1" />
<line x1="616.70" y1="241.90" x2="616.70" y2="245.20" stroke="#151515" stroke-width="1.1" />
<line x1="613.70" y1="241.90" x2="619.70" y2="241.90" stroke="#151515" stroke-width="1.3" />
<line x1="616.70" y1="285.00" x2="616.70" y2="288.30" stroke="#151515" stroke-width="1.1" />
<line x1="613.70" y1="288.30" x2="619.70" y2="288.30" stroke="#151515" stroke-width="1.3" />
<rect x="610.30" y="245.20" width="12.80" height="39.80" fill="#874a50" stroke="#151515" stroke-width="1.3"/>
<line x1="610.30" y1="262.10" x2="623.10" y2="262.10" stroke="#151515" stroke-width="1.6" />
<circle cx="616.70" cy="241.30" r="1.9" fill="#fff" stroke="#2a2a2a" stroke-width="0.7" stroke-opacity="0.85"/>
<circle cx="616.70" cy="288.80" r="1.9" fill="#fff" stroke="#2a2a2a" stroke-width="0.7" stroke-opacity="0.85"/>
<circle cx="616.70" cy="247.00" r="1.9" fill="none" stroke="#2a2a2a" stroke-width="0.7" stroke-opacity="0.85"/>
<circle cx="616.70" cy="262.10" r="1.9" fill="none" stroke="#2a2a2a" stroke-width="0.7" stroke-opacity="0.85"/>
<circle cx="616.70" cy="283.50" r="1.9" fill="none" stroke="#2a2a2a" stroke-width="0.7" stroke-opacity="0.85"/>
<line x1="613.70" y1="241.90" x2="619.70" y2="241.90" stroke="#151515" stroke-width="1.3" />
<line x1="613.70" y1="288.30" x2="619.70" y2="288.30" stroke="#151515" stroke-width="1.3" />
<line x1="631.40" y1="308.20" x2="631.40" y2="312.00" stroke="#1a1a1a" stroke-width="1.1" />
<line x1="631.70" y1="273.40" x2="631.70" y2="277.00" stroke="#151515" stroke-width="1.1" />
<line x1="628.70" y1="273.40" x2="634.70" y2="273.40" stroke="#151515" stroke-width="1.3" />
<rect x="625.30" y="277.00" width="12.80" height="29.30" fill="#874a50" stroke="#151515" stroke-width="1.3"/>
<line x1="625.30" y1="298.20" x2="638.10" y2="298.20" stroke="#151515" stroke-width="1.6" />
<circle cx="631.70" cy="273.00" r="1.9" fill="#fff" stroke="#2a2a2a" stroke-width="0.7" stroke-opacity="0.85"/>
<circle cx="631.70" cy="279.00" r="1.9" fill="none" stroke="#2a2a2a" stroke-width="0.7" stroke-opacity="0.85"/>
<circle cx="631.70" cy="298.00" r="1.9" fill="none" stroke="#2a2a2a" stroke-width="0.7" stroke-opacity="0.85"/>
<circle cx="626.70" cy="307.60" r="1.9" fill="none" stroke="#2a2a2a" stroke-width="0.7" stroke-opacity="0.85"/>
<line x1="628.70" y1="273.40" x2="634.70" y2="273.40" stroke="#151515" stroke-width="1.3" />
<line x1="646.60" y1="308.20" x2="646.60" y2="312.00" stroke="#1a1a1a" stroke-width="1.1" />
<line x1="646.80" y1="284.00" x2="646.80" y2="286.60" stroke="#151515" stroke-width="1.1" />
<line x1="643.80" y1="284.00" x2="649.80" y2="284.00" stroke="#151515" stroke-width="1.3" />
<line x1="646.80" y1="296.00" x2="646.80" y2="298.80" stroke="#151515" stroke-width="1.1" />
<line x1="643.80" y1="298.80" x2="649.80" y2="298.80" stroke="#151515" stroke-width="1.3" />
<rect x="640.40" y="286.60" width="12.80" height="9.40" fill="#874a50" stroke="#151515" stroke-width="1.3"/>
<line x1="640.40" y1="290.10" x2="653.20" y2="290.10" stroke="#151515" stroke-width="1.6" />
<circle cx="646.80" cy="282.90" r="1.9" fill="#fff" stroke="#2a2a2a" stroke-width="0.7" stroke-opacity="0.85"/>
<circle cx="642.80" cy="297.10" r="1.9" fill="#fff" stroke="#2a2a2a" stroke-width="0.7" stroke-opacity="0.85"/>
<circle cx="650.80" cy="290.00" r="1.9" fill="none" stroke="#2a2a2a" stroke-width="0.7" stroke-opacity="0.85"/>
<line x1="643.80" y1="284.00" x2="649.80" y2="284.00" stroke="#151515" stroke-width="1.3" />
<line x1="643.80" y1="298.80" x2="649.80" y2="298.80" stroke="#151515" stroke-width="1.3" />
<text x="528.20" y="320.40" font-size="8.0" font-weight="bold" font-style="normal" text-anchor="middle" fill="#111" >A</text>
<text x="529.00" y="327.30" font-size="7.6" font-weight="normal" font-style="normal" text-anchor="middle" fill="#1a1a1a" >-</text>
<text x="529.00" y="337.60" font-size="7.6" font-weight="normal" font-style="normal" text-anchor="middle" fill="#1a1a1a" >-</text>
<text x="543.20" y="320.40" font-size="8.0" font-weight="bold" font-style="normal" text-anchor="middle" fill="#111" >B</text>
<text x="543.50" y="328.70" font-size="8.4" font-weight="normal" font-style="normal" text-anchor="middle" fill="#1a1a1a" >+</text>
<text x="544.00" y="337.60" font-size="7.6" font-weight="normal" font-style="normal" text-anchor="middle" fill="#1a1a1a" >-</text>
<text x="558.00" y="320.40" font-size="8.0" font-weight="bold" font-style="normal" text-anchor="middle" fill="#111" >C</text>
<text x="558.80" y="327.30" font-size="7.6" font-weight="normal" font-style="normal" text-anchor="middle" fill="#1a1a1a" >-</text>
<text x="558.30" y="339.00" font-size="8.4" font-weight="normal" font-style="normal" text-anchor="middle" fill="#1a1a1a" >+</text>
<text x="572.90" y="320.40" font-size="8.0" font-weight="bold" font-style="normal" text-anchor="middle" fill="#111" >D</text>
<text x="573.20" y="328.70" font-size="8.4" font-weight="normal" font-style="normal" text-anchor="middle" fill="#1a1a1a" >+</text>
<text x="573.20" y="339.00" font-size="8.4" font-weight="normal" font-style="normal" text-anchor="middle" fill="#1a1a1a" >+</text>
<text x="601.50" y="320.40" font-size="8.0" font-weight="bold" font-style="normal" text-anchor="middle" fill="#111" >A</text>
<text x="602.30" y="327.30" font-size="7.6" font-weight="normal" font-style="normal" text-anchor="middle" fill="#1a1a1a" >-</text>
<text x="602.30" y="337.60" font-size="7.6" font-weight="normal" font-style="normal" text-anchor="middle" fill="#1a1a1a" >-</text>
<text x="616.40" y="320.40" font-size="8.0" font-weight="bold" font-style="normal" text-anchor="middle" fill="#111" >B</text>
<text x="616.70" y="328.70" font-size="8.4" font-weight="normal" font-style="normal" text-anchor="middle" fill="#1a1a1a" >+</text>
<text x="617.20" y="337.60" font-size="7.6" font-weight="normal" font-style="normal" text-anchor="middle" fill="#1a1a1a" >-</text>
<text x="631.40" y="320.40" font-size="8.0" font-weight="bold" font-style="normal" text-anchor="middle" fill="#111" >C</text>
<text x="632.20" y="327.30" font-size="7.6" font-weight="normal" font-style="normal" text-anchor="middle" fill="#1a1a1a" >-</text>
<text x="631.70" y="339.00" font-size="8.4" font-weight="normal" font-style="normal" text-anchor="middle" fill="#1a1a1a" >+</text>
<text x="646.60" y="320.40" font-size="8.0" font-weight="bold" font-style="normal" text-anchor="middle" fill="#111" >D</text>
<text x="646.90" y="328.70" font-size="8.4" font-weight="normal" font-style="normal" text-anchor="middle" fill="#1a1a1a" >+</text>
<text x="646.90" y="339.00" font-size="8.4" font-weight="normal" font-style="normal" text-anchor="middle" fill="#1a1a1a" >+</text>
<text x="490.30" y="328.10" font-size="7.9" font-weight="normal" font-style="normal" text-anchor="start" fill="#222" textLength="21.8" lengthAdjust="spacingAndGlyphs" stroke="#222" stroke-width="0.25">PD-L1</text>
<text x="490.30" y="337.30" font-size="8.3" font-weight="normal" font-style="normal" text-anchor="start" fill="#222" textLength="35.4" lengthAdjust="spacingAndGlyphs" stroke="#222" stroke-width="0.25">Nivolumab</text>
<path d="M543.60,218.20 H616.70" fill="none" stroke="#7a7a7a" stroke-width="1.25" stroke-dasharray="2.6,2.3"/>
<line x1="543.60" y1="219.50" x2="543.60" y2="221.10" stroke="#7a7a7a" stroke-width="1.1" />
<line x1="616.70" y1="219.50" x2="616.70" y2="221.10" stroke="#7a7a7a" stroke-width="1.1" />
<text x="580.65" y="218.30" font-size="7.2" font-weight="bold" font-style="normal" text-anchor="middle" fill="#222" letter-spacing="0.7">***</text>
<path d="M616.30,229.70 V227.10 H644.20 V229.70" fill="none" stroke="#151515" stroke-width="1.05"/>
<text x="630.75" y="227.20" font-size="7.2" font-weight="bold" font-style="normal" text-anchor="middle" fill="#222" letter-spacing="0.7">*</text>
<path d="M616.30,238.10 V235.50 H630.70 V238.10" fill="none" stroke="#151515" stroke-width="1.05"/>
<text x="624.00" y="235.60" font-size="7.2" font-weight="bold" font-style="normal" text-anchor="middle" fill="#222" letter-spacing="0.7">**</text>
</svg>
</body></html>
